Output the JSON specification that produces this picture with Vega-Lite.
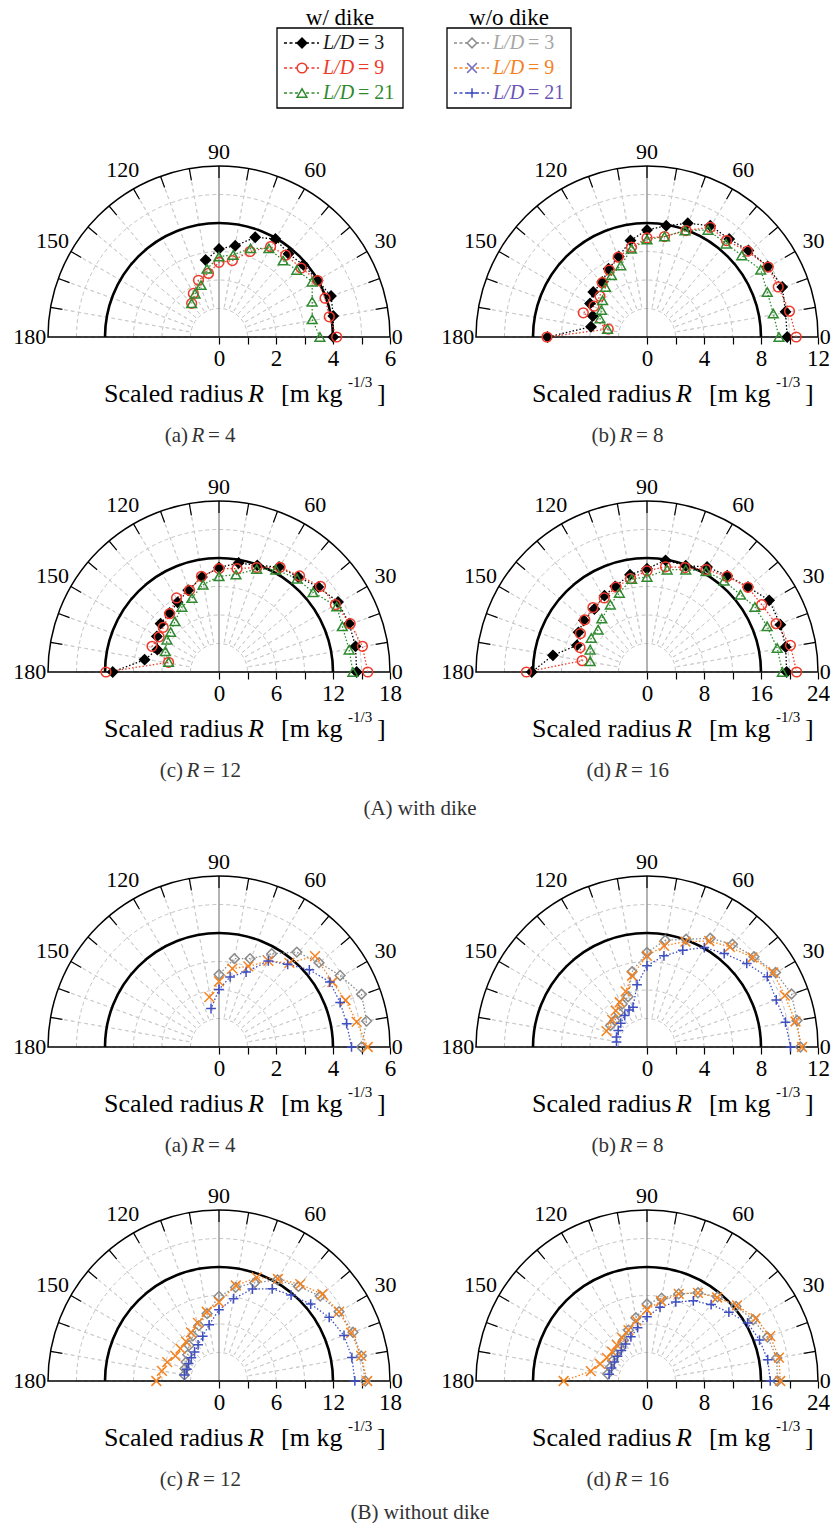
{
"$schema":"https://vega.github.io/schema/vega-lite/v6.json",
"padding":{"left":13,"top":7,"right":0,"bottom":0},
"resolve":{"scale":{"color":"independent","stroke":"independent","fill":"independent","shape":"independent"}},
"config":{"view":{"stroke":null},"font":"Liberation Serif","text":{"font":"Liberation Serif","fill":"#000"},"axisY":{"disable":true},
"axisX":{"domain":false,"grid":false,"tickSize":7,"tickColor":"#000","tickWidth":1.2,"labelFontSize":23,"labelFont":"Liberation Serif","labelColor":"#000","labelPadding":3,"labelFlush":false,"labelOverlap":false}},
"datasets":{
"rings":[{"r":1},{"r":2},{"r":3},{"r":5}],
"spokes":[{"a":10},{"a":20},{"a":30},{"a":40},{"a":50},{"a":60},{"a":70},{"a":80},{"a":100},{"a":110},{"a":120},{"a":130},{"a":140},{"a":150},{"a":160},{"a":170}],
"ticks":[{"a":10},{"a":20},{"a":30},{"a":40},{"a":50},{"a":60},{"a":70},{"a":80},{"a":90},{"a":100},{"a":110},{"a":120},{"a":130},{"a":140},{"a":150},{"a":160},{"a":170}],
"alab":[{"a":30,"t":"30"},{"a":60,"t":"60"},{"a":120,"t":"120"},{"a":150,"t":"150"}],
"leg":[{"g":"w","s":"w3","ld":"3","t":"= 3"},{"g":"w","s":"w9","ld":"9","t":"= 9"},{"g":"w","s":"w21","ld":"21","t":"= 21"},{"g":"o","s":"o3","ld":"3","t":"= 3"},{"g":"o","s":"o9","ld":"9","t":"= 9"},{"g":"o","s":"o21","ld":"21","t":"= 21"}],
"pts":[
{"p":"Aa","s":"w3","a":0,"x":4.01,"y":0},{"p":"Aa","s":"w3","a":10,"x":4.01,"y":0.74},{"p":"Aa","s":"w3","a":20,"x":3.93,"y":1.44},{"p":"Aa","s":"w3","a":30,"x":3.46,"y":1.98},{"p":"Aa","s":"w3","a":40,"x":2.96,"y":2.53},{"p":"Aa","s":"w3","a":50,"x":2.44,"y":2.92},{"p":"Aa","s":"w3","a":60,"x":1.98,"y":3.44},{"p":"Aa","s":"w3","a":70,"x":1.27,"y":3.5},{"p":"Aa","s":"w3","a":80,"x":0.57,"y":3.2},{"p":"Aa","s":"w3","a":90,"x":0,"y":3.09},{"p":"Aa","s":"w3","a":100,"x":-0.47,"y":2.7},
{"p":"Aa","s":"w9","a":0,"x":4.13,"y":0},{"p":"Aa","s":"w9","a":10,"x":3.87,"y":0.71},{"p":"Aa","s":"w9","a":20,"x":3.72,"y":1.36},{"p":"Aa","s":"w9","a":30,"x":3.46,"y":1.98},{"p":"Aa","s":"w9","a":40,"x":2.88,"y":2.42},{"p":"Aa","s":"w9","a":50,"x":2.34,"y":2.87},{"p":"Aa","s":"w9","a":60,"x":1.81,"y":3.17},{"p":"Aa","s":"w9","a":70,"x":1.09,"y":3.0},{"p":"Aa","s":"w9","a":80,"x":0.47,"y":2.68},{"p":"Aa","s":"w9","a":90,"x":0,"y":2.62},{"p":"Aa","s":"w9","a":100,"x":-0.37,"y":2.23},{"p":"Aa","s":"w9","a":110,"x":-0.72,"y":1.99},{"p":"Aa","s":"w9","a":120,"x":-0.9,"y":1.53},{"p":"Aa","s":"w9","a":130,"x":-0.96,"y":1.18},
{"p":"Aa","s":"w21","a":0,"x":3.54,"y":0},{"p":"Aa","s":"w21","a":10,"x":3.27,"y":0.62},{"p":"Aa","s":"w21","a":20,"x":3.27,"y":1.24},{"p":"Aa","s":"w21","a":30,"x":3.27,"y":1.94},{"p":"Aa","s":"w21","a":40,"x":2.73,"y":2.35},{"p":"Aa","s":"w21","a":50,"x":2.25,"y":2.68},{"p":"Aa","s":"w21","a":60,"x":1.75,"y":3.11},{"p":"Aa","s":"w21","a":70,"x":1.11,"y":3.11},{"p":"Aa","s":"w21","a":80,"x":0.5,"y":2.88},{"p":"Aa","s":"w21","a":90,"x":0,"y":2.82},{"p":"Aa","s":"w21","a":100,"x":-0.42,"y":2.39},{"p":"Aa","s":"w21","a":110,"x":-0.63,"y":1.82},{"p":"Aa","s":"w21","a":120,"x":-0.84,"y":1.52},{"p":"Aa","s":"w21","a":130,"x":-0.96,"y":1.18},
{"p":"Ab","s":"w3","a":0,"x":9.84,"y":0},{"p":"Ab","s":"w3","a":10,"x":9.72,"y":1.77},{"p":"Ab","s":"w3","a":20,"x":9.49,"y":3.51},{"p":"Ab","s":"w3","a":30,"x":8.47,"y":4.95},{"p":"Ab","s":"w3","a":40,"x":7.12,"y":6.07},{"p":"Ab","s":"w3","a":50,"x":5.77,"y":6.88},{"p":"Ab","s":"w3","a":60,"x":4.44,"y":7.81},{"p":"Ab","s":"w3","a":70,"x":2.86,"y":7.98},{"p":"Ab","s":"w3","a":80,"x":1.35,"y":7.81},{"p":"Ab","s":"w3","a":90,"x":0,"y":7.51},{"p":"Ab","s":"w3","a":100,"x":-1.16,"y":6.77},{"p":"Ab","s":"w3","a":110,"x":-1.98,"y":5.65},{"p":"Ab","s":"w3","a":120,"x":-2.7,"y":4.79},{"p":"Ab","s":"w3","a":130,"x":-3.14,"y":3.86},{"p":"Ab","s":"w3","a":140,"x":-3.77,"y":3.16},{"p":"Ab","s":"w3","a":150,"x":-4.0,"y":2.35},{"p":"Ab","s":"w3","a":160,"x":-3.81,"y":1.47},{"p":"Ab","s":"w3","a":170,"x":-3.93,"y":0.72},{"p":"Ab","s":"w3","a":180,"x":-6.98,"y":0},
{"p":"Ab","s":"w9","a":0,"x":10.47,"y":0},{"p":"Ab","s":"w9","a":10,"x":10.0,"y":1.81},{"p":"Ab","s":"w9","a":20,"x":9.21,"y":3.51},{"p":"Ab","s":"w9","a":30,"x":8.51,"y":4.91},{"p":"Ab","s":"w9","a":40,"x":7.05,"y":6.02},{"p":"Ab","s":"w9","a":50,"x":5.58,"y":6.77},{"p":"Ab","s":"w9","a":60,"x":4.44,"y":7.7},{"p":"Ab","s":"w9","a":70,"x":2.74,"y":7.47},{"p":"Ab","s":"w9","a":80,"x":1.23,"y":7.05},{"p":"Ab","s":"w9","a":90,"x":0,"y":6.95},{"p":"Ab","s":"w9","a":100,"x":-1.09,"y":6.3},{"p":"Ab","s":"w9","a":110,"x":-2.02,"y":5.6},{"p":"Ab","s":"w9","a":120,"x":-2.65,"y":4.7},{"p":"Ab","s":"w9","a":130,"x":-3.14,"y":3.81},{"p":"Ab","s":"w9","a":140,"x":-3.3,"y":2.86},{"p":"Ab","s":"w9","a":150,"x":-3.72,"y":2.16},{"p":"Ab","s":"w9","a":160,"x":-4.47,"y":1.7},{"p":"Ab","s":"w9","a":170,"x":-2.72,"y":0.56},{"p":"Ab","s":"w9","a":180,"x":-7.02,"y":0},
{"p":"Ab","s":"w21","a":0,"x":9.26,"y":0},{"p":"Ab","s":"w21","a":10,"x":8.86,"y":1.65},{"p":"Ab","s":"w21","a":20,"x":8.44,"y":3.16},{"p":"Ab","s":"w21","a":30,"x":7.98,"y":4.72},{"p":"Ab","s":"w21","a":40,"x":6.65,"y":5.72},{"p":"Ab","s":"w21","a":50,"x":5.55,"y":6.55},{"p":"Ab","s":"w21","a":60,"x":4.28,"y":7.51},{"p":"Ab","s":"w21","a":70,"x":2.67,"y":7.47},{"p":"Ab","s":"w21","a":80,"x":1.23,"y":7.05},{"p":"Ab","s":"w21","a":90,"x":0,"y":6.84},{"p":"Ab","s":"w21","a":100,"x":-1.09,"y":6.19},{"p":"Ab","s":"w21","a":110,"x":-1.84,"y":5.02},{"p":"Ab","s":"w21","a":120,"x":-2.49,"y":4.33},{"p":"Ab","s":"w21","a":130,"x":-2.91,"y":3.51},{"p":"Ab","s":"w21","a":140,"x":-3.12,"y":2.58},{"p":"Ab","s":"w21","a":150,"x":-3.2,"y":1.9},{"p":"Ab","s":"w21","a":160,"x":-3.3,"y":1.3},{"p":"Ab","s":"w21","a":170,"x":-2.77,"y":0.56},
{"p":"Ac","s":"w3","a":0,"x":14.49,"y":0},{"p":"Ac","s":"w3","a":10,"x":14.37,"y":2.7},{"p":"Ac","s":"w3","a":20,"x":13.7,"y":5.09},{"p":"Ac","s":"w3","a":30,"x":12.53,"y":7.37},{"p":"Ac","s":"w3","a":40,"x":10.46,"y":8.95},{"p":"Ac","s":"w3","a":50,"x":8.33,"y":10.0},{"p":"Ac","s":"w3","a":60,"x":6.32,"y":11.05},{"p":"Ac","s":"w3","a":70,"x":4.03,"y":11.23},{"p":"Ac","s":"w3","a":80,"x":2.07,"y":11.47},{"p":"Ac","s":"w3","a":90,"x":0,"y":11.0},{"p":"Ac","s":"w3","a":100,"x":-1.79,"y":10.0},{"p":"Ac","s":"w3","a":110,"x":-3.24,"y":8.6},{"p":"Ac","s":"w3","a":120,"x":-4.36,"y":7.33},{"p":"Ac","s":"w3","a":130,"x":-5.2,"y":6.21},{"p":"Ac","s":"w3","a":140,"x":-6.15,"y":5.09},{"p":"Ac","s":"w3","a":150,"x":-6.54,"y":3.75},{"p":"Ac","s":"w3","a":160,"x":-6.49,"y":2.35},{"p":"Ac","s":"w3","a":170,"x":-7.83,"y":1.3},{"p":"Ac","s":"w3","a":180,"x":-11.19,"y":0},
{"p":"Ac","s":"w9","a":0,"x":15.66,"y":0},{"p":"Ac","s":"w9","a":10,"x":15.1,"y":2.7},{"p":"Ac","s":"w9","a":20,"x":13.81,"y":5.09},{"p":"Ac","s":"w9","a":30,"x":12.25,"y":7.09},{"p":"Ac","s":"w9","a":40,"x":10.68,"y":9.02},{"p":"Ac","s":"w9","a":50,"x":8.48,"y":10.11},{"p":"Ac","s":"w9","a":60,"x":6.43,"y":11.02},{"p":"Ac","s":"w9","a":70,"x":3.97,"y":11.0},{"p":"Ac","s":"w9","a":80,"x":1.9,"y":10.88},{"p":"Ac","s":"w9","a":90,"x":0,"y":10.88},{"p":"Ac","s":"w9","a":100,"x":-1.85,"y":10.07},{"p":"Ac","s":"w9","a":110,"x":-3.1,"y":8.6},{"p":"Ac","s":"w9","a":120,"x":-4.47,"y":7.79},{"p":"Ac","s":"w9","a":130,"x":-5.2,"y":6.14},{"p":"Ac","s":"w9","a":140,"x":-5.87,"y":4.7},{"p":"Ac","s":"w9","a":150,"x":-6.3,"y":3.7},{"p":"Ac","s":"w9","a":160,"x":-7.05,"y":2.7},{"p":"Ac","s":"w9","a":170,"x":-5.31,"y":1.02},{"p":"Ac","s":"w9","a":180,"x":-11.9,"y":0},
{"p":"Ac","s":"w21","a":0,"x":14.09,"y":0},{"p":"Ac","s":"w21","a":10,"x":13.7,"y":2.35},{"p":"Ac","s":"w21","a":20,"x":12.98,"y":4.81},{"p":"Ac","s":"w21","a":30,"x":12.4,"y":6.9},{"p":"Ac","s":"w21","a":40,"x":9.9,"y":8.39},{"p":"Ac","s":"w21","a":50,"x":8.22,"y":9.82},{"p":"Ac","s":"w21","a":60,"x":5.98,"y":10.77},{"p":"Ac","s":"w21","a":70,"x":3.97,"y":10.84},{"p":"Ac","s":"w21","a":80,"x":1.79,"y":10.25},{"p":"Ac","s":"w21","a":90,"x":0,"y":10.07},{"p":"Ac","s":"w21","a":100,"x":-1.68,"y":9.19},{"p":"Ac","s":"w21","a":110,"x":-2.85,"y":7.79},{"p":"Ac","s":"w21","a":120,"x":-3.91,"y":6.84},{"p":"Ac","s":"w21","a":130,"x":-4.64,"y":5.33},{"p":"Ac","s":"w21","a":140,"x":-5.09,"y":4.21},{"p":"Ac","s":"w21","a":150,"x":-5.48,"y":3.4},{"p":"Ac","s":"w21","a":160,"x":-5.65,"y":2.18},{"p":"Ac","s":"w21","a":170,"x":-5.31,"y":1.05},
{"p":"Ad","s":"w3","a":0,"x":19.6,"y":0},{"p":"Ad","s":"w3","a":10,"x":19.46,"y":3.51},{"p":"Ad","s":"w3","a":20,"x":18.72,"y":6.64},{"p":"Ad","s":"w3","a":30,"x":17.15,"y":10.06},{"p":"Ad","s":"w3","a":40,"x":14.17,"y":11.93},{"p":"Ad","s":"w3","a":50,"x":11.26,"y":13.52},{"p":"Ad","s":"w3","a":60,"x":8.43,"y":14.74},{"p":"Ad","s":"w3","a":70,"x":5.44,"y":14.92},{"p":"Ad","s":"w3","a":80,"x":2.61,"y":15.67},{"p":"Ad","s":"w3","a":90,"x":0,"y":14.5},{"p":"Ad","s":"w3","a":100,"x":-2.39,"y":13.66},{"p":"Ad","s":"w3","a":110,"x":-4.47,"y":12.02},{"p":"Ad","s":"w3","a":120,"x":-5.97,"y":10.71},{"p":"Ad","s":"w3","a":130,"x":-7.38,"y":8.84},{"p":"Ad","s":"w3","a":140,"x":-8.87,"y":7.25},{"p":"Ad","s":"w3","a":150,"x":-9.62,"y":5.57},{"p":"Ad","s":"w3","a":160,"x":-9.84,"y":3.74},{"p":"Ad","s":"w3","a":170,"x":-13.2,"y":2.34},{"p":"Ad","s":"w3","a":180,"x":-16.18,"y":0},
{"p":"Ad","s":"w9","a":0,"x":21.0,"y":0},{"p":"Ad","s":"w9","a":10,"x":20.13,"y":3.74},{"p":"Ad","s":"w9","a":20,"x":18.12,"y":6.78},{"p":"Ad","s":"w9","a":30,"x":16.1,"y":9.45},{"p":"Ad","s":"w9","a":40,"x":14.17,"y":11.89},{"p":"Ad","s":"w9","a":50,"x":11.25,"y":13.41},{"p":"Ad","s":"w9","a":60,"x":8.3,"y":14.38},{"p":"Ad","s":"w9","a":70,"x":5.34,"y":14.66},{"p":"Ad","s":"w9","a":80,"x":2.6,"y":14.77},{"p":"Ad","s":"w9","a":90,"x":0,"y":14.2},{"p":"Ad","s":"w9","a":100,"x":-2.31,"y":13.1},{"p":"Ad","s":"w9","a":110,"x":-4.34,"y":11.93},{"p":"Ad","s":"w9","a":120,"x":-6.0,"y":10.39},{"p":"Ad","s":"w9","a":130,"x":-7.59,"y":9.04},{"p":"Ad","s":"w9","a":140,"x":-8.73,"y":7.33},{"p":"Ad","s":"w9","a":150,"x":-9.35,"y":5.4},{"p":"Ad","s":"w9","a":160,"x":-9.4,"y":3.42},{"p":"Ad","s":"w9","a":170,"x":-9.1,"y":1.59},{"p":"Ad","s":"w9","a":180,"x":-16.93,"y":0},
{"p":"Ad","s":"w21","a":0,"x":19.0,"y":0},{"p":"Ad","s":"w21","a":10,"x":18.27,"y":3.37},{"p":"Ad","s":"w21","a":20,"x":16.85,"y":6.41},{"p":"Ad","s":"w21","a":30,"x":15.14,"y":9.12},{"p":"Ad","s":"w21","a":40,"x":13.12,"y":10.85},{"p":"Ad","s":"w21","a":50,"x":10.81,"y":12.82},{"p":"Ad","s":"w21","a":60,"x":8.28,"y":14.13},{"p":"Ad","s":"w21","a":70,"x":5.44,"y":14.36},{"p":"Ad","s":"w21","a":80,"x":2.83,"y":14.36},{"p":"Ad","s":"w21","a":90,"x":0,"y":13.33},{"p":"Ad","s":"w21","a":100,"x":-2.16,"y":13.05},{"p":"Ad","s":"w21","a":110,"x":-3.88,"y":11.09},{"p":"Ad","s":"w21","a":120,"x":-5.15,"y":9.45},{"p":"Ad","s":"w21","a":130,"x":-6.34,"y":7.49},{"p":"Ad","s":"w21","a":140,"x":-6.86,"y":5.94},{"p":"Ad","s":"w21","a":150,"x":-7.83,"y":4.77},{"p":"Ad","s":"w21","a":160,"x":-7.98,"y":3.13},{"p":"Ad","s":"w21","a":170,"x":-7.98,"y":1.5},
{"p":"Ba","s":"o3","a":0,"x":5.0,"y":0},{"p":"Ba","s":"o3","a":10,"x":5.18,"y":0.91},{"p":"Ba","s":"o3","a":20,"x":5.0,"y":1.85},{"p":"Ba","s":"o3","a":30,"x":4.25,"y":2.51},{"p":"Ba","s":"o3","a":40,"x":3.51,"y":2.96},{"p":"Ba","s":"o3","a":50,"x":2.73,"y":3.33},{"p":"Ba","s":"o3","a":60,"x":1.85,"y":3.27},{"p":"Ba","s":"o3","a":70,"x":1.09,"y":3.1},{"p":"Ba","s":"o3","a":80,"x":0.54,"y":3.1},{"p":"Ba","s":"o3","a":90,"x":0,"y":2.54},
{"p":"Ba","s":"o9","a":0,"x":5.22,"y":0},{"p":"Ba","s":"o9","a":10,"x":4.83,"y":0.88},{"p":"Ba","s":"o9","a":20,"x":4.44,"y":1.64},{"p":"Ba","s":"o9","a":30,"x":3.98,"y":2.28},{"p":"Ba","s":"o9","a":40,"x":3.37,"y":3.19},{"p":"Ba","s":"o9","a":50,"x":2.47,"y":2.95},{"p":"Ba","s":"o9","a":60,"x":1.73,"y":3.02},{"p":"Ba","s":"o9","a":70,"x":1.03,"y":2.83},{"p":"Ba","s":"o9","a":80,"x":0.47,"y":2.75},{"p":"Ba","s":"o9","a":90,"x":0,"y":2.3},{"p":"Ba","s":"o9","a":100,"x":-0.34,"y":1.75},
{"p":"Ba","s":"o21","a":0,"x":4.65,"y":0},{"p":"Ba","s":"o21","a":10,"x":4.48,"y":0.82},{"p":"Ba","s":"o21","a":20,"x":4.25,"y":1.56},{"p":"Ba","s":"o21","a":30,"x":3.89,"y":2.28},{"p":"Ba","s":"o21","a":40,"x":3.17,"y":2.71},{"p":"Ba","s":"o21","a":50,"x":2.41,"y":2.9},{"p":"Ba","s":"o21","a":60,"x":1.73,"y":3.02},{"p":"Ba","s":"o21","a":70,"x":0.95,"y":2.63},{"p":"Ba","s":"o21","a":80,"x":0.39,"y":2.46},{"p":"Ba","s":"o21","a":90,"x":0,"y":2.02},{"p":"Ba","s":"o21","a":100,"x":-0.28,"y":1.35},
{"p":"Bb","s":"o3","a":0,"x":10.77,"y":0},{"p":"Bb","s":"o3","a":10,"x":10.53,"y":1.86},{"p":"Bb","s":"o3","a":20,"x":10.14,"y":3.72},{"p":"Bb","s":"o3","a":30,"x":9.02,"y":5.23},{"p":"Bb","s":"o3","a":40,"x":7.51,"y":6.33},{"p":"Bb","s":"o3","a":50,"x":6.0,"y":7.21},{"p":"Bb","s":"o3","a":60,"x":4.44,"y":7.63},{"p":"Bb","s":"o3","a":70,"x":2.74,"y":7.56},{"p":"Bb","s":"o3","a":80,"x":1.28,"y":7.49},{"p":"Bb","s":"o3","a":90,"x":0,"y":6.63},{"p":"Bb","s":"o3","a":100,"x":-1.05,"y":5.28},{"p":"Bb","s":"o3","a":110,"x":-1.33,"y":3.53},{"p":"Bb","s":"o3","a":120,"x":-1.74,"y":3.02},{"p":"Bb","s":"o3","a":130,"x":-1.98,"y":2.4},{"p":"Bb","s":"o3","a":140,"x":-2.26,"y":1.86},{"p":"Bb","s":"o3","a":150,"x":-2.56,"y":1.51},
{"p":"Bb","s":"o9","a":0,"x":10.88,"y":0},{"p":"Bb","s":"o9","a":10,"x":10.42,"y":1.79},{"p":"Bb","s":"o9","a":20,"x":9.67,"y":3.6},{"p":"Bb","s":"o9","a":30,"x":8.86,"y":5.23},{"p":"Bb","s":"o9","a":40,"x":7.4,"y":6.28},{"p":"Bb","s":"o9","a":50,"x":5.81,"y":7.02},{"p":"Bb","s":"o9","a":60,"x":4.37,"y":7.44},{"p":"Bb","s":"o9","a":70,"x":2.7,"y":7.4},{"p":"Bb","s":"o9","a":80,"x":1.2,"y":7.1},{"p":"Bb","s":"o9","a":90,"x":0,"y":6.4},{"p":"Bb","s":"o9","a":100,"x":-1.05,"y":5.0},{"p":"Bb","s":"o9","a":110,"x":-1.5,"y":3.9},{"p":"Bb","s":"o9","a":120,"x":-1.91,"y":3.14},{"p":"Bb","s":"o9","a":130,"x":-2.2,"y":2.55},{"p":"Bb","s":"o9","a":140,"x":-2.44,"y":1.9},{"p":"Bb","s":"o9","a":150,"x":-2.84,"y":1.12},
{"p":"Bb","s":"o21","a":0,"x":10.07,"y":0},{"p":"Bb","s":"o21","a":10,"x":9.72,"y":1.74},{"p":"Bb","s":"o21","a":20,"x":9.07,"y":3.3},{"p":"Bb","s":"o21","a":30,"x":8.44,"y":4.93},{"p":"Bb","s":"o21","a":40,"x":7.0,"y":5.86},{"p":"Bb","s":"o21","a":50,"x":5.42,"y":6.56},{"p":"Bb","s":"o21","a":60,"x":4.02,"y":6.98},{"p":"Bb","s":"o21","a":70,"x":2.51,"y":6.79},{"p":"Bb","s":"o21","a":80,"x":1.19,"y":6.4},{"p":"Bb","s":"o21","a":90,"x":0,"y":5.7},{"p":"Bb","s":"o21","a":100,"x":-0.7,"y":4.37},{"p":"Bb","s":"o21","a":110,"x":-0.98,"y":2.79},{"p":"Bb","s":"o21","a":120,"x":-1.26,"y":2.6},{"p":"Bb","s":"o21","a":130,"x":-1.56,"y":2.21},{"p":"Bb","s":"o21","a":140,"x":-1.84,"y":1.67},{"p":"Bb","s":"o21","a":150,"x":-2.02,"y":1.16},{"p":"Bb","s":"o21","a":160,"x":-2.14,"y":0.7},{"p":"Bb","s":"o21","a":170,"x":-2.14,"y":0.35},
{"p":"Bc","s":"o3","a":0,"x":15.4,"y":0},{"p":"Bc","s":"o3","a":10,"x":14.97,"y":2.64},{"p":"Bc","s":"o3","a":20,"x":14.1,"y":5.13},{"p":"Bc","s":"o3","a":30,"x":12.64,"y":7.3},{"p":"Bc","s":"o3","a":40,"x":10.65,"y":8.94},{"p":"Bc","s":"o3","a":50,"x":8.36,"y":9.96},{"p":"Bc","s":"o3","a":60,"x":6.15,"y":10.65},{"p":"Bc","s":"o3","a":70,"x":3.76,"y":10.34},{"p":"Bc","s":"o3","a":80,"x":1.74,"y":9.85},{"p":"Bc","s":"o3","a":90,"x":0,"y":8.9},{"p":"Bc","s":"o3","a":100,"x":-1.25,"y":7.09},{"p":"Bc","s":"o3","a":110,"x":-2.12,"y":5.83},{"p":"Bc","s":"o3","a":120,"x":-2.75,"y":4.76},{"p":"Bc","s":"o3","a":130,"x":-3.15,"y":3.75},{"p":"Bc","s":"o3","a":140,"x":-3.29,"y":2.76},{"p":"Bc","s":"o3","a":150,"x":-3.46,"y":2.0},{"p":"Bc","s":"o3","a":160,"x":-3.57,"y":1.3},{"p":"Bc","s":"o3","a":170,"x":-3.64,"y":0.64},
{"p":"Bc","s":"o9","a":0,"x":15.6,"y":0},{"p":"Bc","s":"o9","a":10,"x":14.97,"y":2.64},{"p":"Bc","s":"o9","a":20,"x":13.91,"y":5.06},{"p":"Bc","s":"o9","a":30,"x":12.64,"y":7.3},{"p":"Bc","s":"o9","a":40,"x":10.88,"y":9.13},{"p":"Bc","s":"o9","a":50,"x":8.55,"y":10.19},{"p":"Bc","s":"o9","a":60,"x":6.2,"y":10.74},{"p":"Bc","s":"o9","a":70,"x":3.97,"y":10.9},{"p":"Bc","s":"o9","a":80,"x":1.77,"y":10.05},{"p":"Bc","s":"o9","a":90,"x":0,"y":8.3},{"p":"Bc","s":"o9","a":100,"x":-1.29,"y":7.29},{"p":"Bc","s":"o9","a":110,"x":-2.22,"y":6.11},{"p":"Bc","s":"o9","a":120,"x":-2.95,"y":5.11},{"p":"Bc","s":"o9","a":130,"x":-3.47,"y":4.14},{"p":"Bc","s":"o9","a":140,"x":-4.06,"y":3.41},{"p":"Bc","s":"o9","a":150,"x":-4.59,"y":2.65},{"p":"Bc","s":"o9","a":160,"x":-5.45,"y":1.98},{"p":"Bc","s":"o9","a":170,"x":-6.01,"y":1.06},{"p":"Bc","s":"o9","a":180,"x":-6.6,"y":0},
{"p":"Bc","s":"o21","a":0,"x":14.3,"y":0},{"p":"Bc","s":"o21","a":10,"x":13.99,"y":2.47},{"p":"Bc","s":"o21","a":20,"x":13.16,"y":4.79},{"p":"Bc","s":"o21","a":30,"x":11.6,"y":6.7},{"p":"Bc","s":"o21","a":40,"x":9.65,"y":8.1},{"p":"Bc","s":"o21","a":50,"x":7.59,"y":9.04},{"p":"Bc","s":"o21","a":60,"x":5.6,"y":9.7},{"p":"Bc","s":"o21","a":70,"x":3.52,"y":9.68},{"p":"Bc","s":"o21","a":80,"x":1.53,"y":8.67},{"p":"Bc","s":"o21","a":90,"x":0,"y":7.5},{"p":"Bc","s":"o21","a":100,"x":-1.04,"y":5.91},{"p":"Bc","s":"o21","a":110,"x":-1.71,"y":4.7},{"p":"Bc","s":"o21","a":120,"x":-2.2,"y":3.81},{"p":"Bc","s":"o21","a":130,"x":-2.57,"y":3.06},{"p":"Bc","s":"o21","a":140,"x":-2.91,"y":2.44},{"p":"Bc","s":"o21","a":150,"x":-3.2,"y":1.85},{"p":"Bc","s":"o21","a":160,"x":-3.38,"y":1.23},{"p":"Bc","s":"o21","a":170,"x":-3.64,"y":0.64},
{"p":"Bd","s":"o3","a":0,"x":18.3,"y":0},{"p":"Bd","s":"o3","a":10,"x":18.22,"y":3.22},{"p":"Bd","s":"o3","a":20,"x":16.92,"y":6.16},{"p":"Bd","s":"o3","a":30,"x":14.9,"y":8.6},{"p":"Bd","s":"o3","a":40,"x":12.49,"y":10.48},{"p":"Bd","s":"o3","a":50,"x":9.9,"y":11.8},{"p":"Bd","s":"o3","a":60,"x":7.15,"y":12.38},{"p":"Bd","s":"o3","a":70,"x":4.45,"y":12.22},{"p":"Bd","s":"o3","a":80,"x":2.05,"y":11.62},{"p":"Bd","s":"o3","a":90,"x":0,"y":10.8},{"p":"Bd","s":"o3","a":100,"x":-1.57,"y":8.87},{"p":"Bd","s":"o3","a":110,"x":-2.6,"y":7.14},{"p":"Bd","s":"o3","a":120,"x":-3.3,"y":5.72},{"p":"Bd","s":"o3","a":130,"x":-3.79,"y":4.52},{"p":"Bd","s":"o3","a":140,"x":-4.37,"y":3.67},{"p":"Bd","s":"o3","a":150,"x":-4.85,"y":2.8},{"p":"Bd","s":"o3","a":160,"x":-5.17,"y":1.88},{"p":"Bd","s":"o3","a":170,"x":-5.52,"y":0.97},
{"p":"Bd","s":"o9","a":0,"x":18.7,"y":0},{"p":"Bd","s":"o9","a":10,"x":18.52,"y":3.27},{"p":"Bd","s":"o9","a":20,"x":17.3,"y":6.29},{"p":"Bd","s":"o9","a":30,"x":15.24,"y":8.8},{"p":"Bd","s":"o9","a":40,"x":12.64,"y":10.61},{"p":"Bd","s":"o9","a":50,"x":9.84,"y":11.72},{"p":"Bd","s":"o9","a":60,"x":7.15,"y":12.38},{"p":"Bd","s":"o9","a":70,"x":4.45,"y":12.22},{"p":"Bd","s":"o9","a":80,"x":1.98,"y":11.23},{"p":"Bd","s":"o9","a":90,"x":0,"y":10.0},{"p":"Bd","s":"o9","a":100,"x":-1.5,"y":8.47},{"p":"Bd","s":"o9","a":110,"x":-2.6,"y":7.14},{"p":"Bd","s":"o9","a":120,"x":-3.5,"y":6.06},{"p":"Bd","s":"o9","a":130,"x":-4.24,"y":5.06},{"p":"Bd","s":"o9","a":140,"x":-4.9,"y":4.11},{"p":"Bd","s":"o9","a":150,"x":-5.63,"y":3.25},{"p":"Bd","s":"o9","a":160,"x":-6.58,"y":2.39},{"p":"Bd","s":"o9","a":170,"x":-7.88,"y":1.39},{"p":"Bd","s":"o9","a":180,"x":-11.7,"y":0},
{"p":"Bd","s":"o21","a":0,"x":17.3,"y":0},{"p":"Bd","s":"o21","a":10,"x":16.94,"y":2.99},{"p":"Bd","s":"o21","a":20,"x":15.79,"y":5.75},{"p":"Bd","s":"o21","a":30,"x":14.12,"y":8.15},{"p":"Bd","s":"o21","a":40,"x":11.49,"y":9.65},{"p":"Bd","s":"o21","a":50,"x":9.0,"y":10.72},{"p":"Bd","s":"o21","a":60,"x":6.5,"y":11.26},{"p":"Bd","s":"o21","a":70,"x":4.04,"y":11.09},{"p":"Bd","s":"o21","a":80,"x":1.83,"y":10.34},{"p":"Bd","s":"o21","a":90,"x":0,"y":9.0},{"p":"Bd","s":"o21","a":100,"x":-1.32,"y":7.48},{"p":"Bd","s":"o21","a":110,"x":-2.26,"y":6.2},{"p":"Bd","s":"o21","a":120,"x":-3.0,"y":5.2},{"p":"Bd","s":"o21","a":130,"x":-3.6,"y":4.29},{"p":"Bd","s":"o21","a":140,"x":-4.14,"y":3.47},{"p":"Bd","s":"o21","a":150,"x":-4.59,"y":2.65},{"p":"Bd","s":"o21","a":160,"x":-4.98,"y":1.81},{"p":"Bd","s":"o21","a":170,"x":-5.32,"y":0.94}
]},
"columns":2,"bounds":"flush","spacing":{"row":58,"column":86},
"concat":[
{"width":342,"height":80,"resolve":{"scale":{"color":"independent"}},
"layer":[
{"data":{"values":[{"g":"w"}]},"mark":{"type":"rect","filled":false,"stroke":"#000","strokeWidth":1.3},"encoding":{"x":{"field":"g","type":"nominal","axis":null,"scale":{"type":"band","domain":["w"],"range":[229,355],"paddingInner":0,"paddingOuter":0}}}},
{"data":{"values":[{"g":"w","t":"w/ dike"}]},"mark":{"type":"text","fontSize":23,"baseline":"alphabetic","yOffset":-18},"encoding":{"x":{"field":"g","type":"nominal","axis":null},"y":{"datum":"3","type":"ordinal","axis":null,"scale":{"type":"point","domain":["3","9","21"],"range":[15,65],"padding":0}},"text":{"field":"t"}}},
{"data":{"name":"leg"},"transform":[{"filter":"datum.g=='w'"}],"mark":{"type":"rule","strokeDash":[3,2.5],"strokeWidth":1.3,"xOffset":7,"x2Offset":42},"encoding":{"x":{"field":"g","type":"nominal","bandPosition":0,"axis":null},"x2":{"field":"g","bandPosition":0},"y":{"field":"ld","type":"ordinal","axis":null},"color":{"field":"s","type":"nominal","legend":null,"scale":{"domain":["w3","w9","w21","o3","o9","o21"],"range":["#000000","#ee3a2a","#2f8a2f","#8c8c8c","#f5821f","#3f4fc0"]}}}},
{"data":{"name":"leg"},"transform":[{"filter":"datum.g=='w'"}],"mark":{"type":"point","filled":true,"size":95,"strokeWidth":1.5,"opacity":1,"xOffset":25},"encoding":{"x":{"field":"g","type":"nominal","bandPosition":0,"axis":null},"y":{"field":"ld","type":"ordinal","axis":null},
"stroke":{"field":"s","type":"nominal","legend":null,"scale":{"domain":["w3","w9","w21","o3","o9","o21"],"range":["#000000","#ee3a2a","#2f8a2f","#8c8c8c","#7b74c4","#3f4fc0"]}},
"fill":{"field":"s","type":"nominal","legend":null,"scale":{"domain":["w3","w9","w21","o3","o9","o21"],"range":["#000000","#ffffff","#ffffff","#ffffff","transparent","transparent"]}},
"shape":{"field":"s","type":"nominal","legend":null,"scale":{"domain":["w3","w9","w21","o3","o9","o21"],"range":["diamond","circle","triangle-up","diamond","M-1,-1L1,1M-1,1L1,-1","M-1,0L1,0M0,-1L0,1"]}}}},
{"data":{"name":"leg"},"transform":[{"filter":"datum.g=='w'"}],"mark":{"type":"text","fontSize":20,"fontStyle":"italic","align":"left","baseline":"middle","xOffset":46},"encoding":{"x":{"field":"g","type":"nominal","bandPosition":0,"axis":null},"y":{"field":"ld","type":"ordinal","axis":null},"text":{"value":"L/D"},"color":{"field":"s","type":"nominal","legend":null,"scale":{"domain":["w3","w9","w21","o3","o9","o21"],"range":["#1a1a1a","#ee3a2a","#2f8a2f","#a5a5a5","#f5821f","#6a55b5"]}}}},
{"data":{"name":"leg"},"transform":[{"filter":"datum.g=='w'"}],"mark":{"type":"text","fontSize":20,"align":"left","baseline":"middle","xOffset":81},"encoding":{"x":{"field":"g","type":"nominal","bandPosition":0,"axis":null},"y":{"field":"ld","type":"ordinal","axis":null},"text":{"field":"t"},"color":{"field":"s","type":"nominal","legend":null,"scale":{"domain":["w3","w9","w21","o3","o9","o21"],"range":["#1a1a1a","#ee3a2a","#2f8a2f","#a5a5a5","#f5821f","#6a55b5"]}}}}
]},
{"width":342,"height":80,"resolve":{"scale":{"color":"independent"}},
"layer":[
{"data":{"values":[{"g":"o"}]},"mark":{"type":"rect","filled":false,"stroke":"#000","strokeWidth":1.3},"encoding":{"x":{"field":"g","type":"nominal","axis":null,"scale":{"type":"band","domain":["o"],"range":[-29,95],"paddingInner":0,"paddingOuter":0}}}},
{"data":{"values":[{"g":"o","t":"w/o dike"}]},"mark":{"type":"text","fontSize":23,"baseline":"alphabetic","yOffset":-18},"encoding":{"x":{"field":"g","type":"nominal","axis":null},"y":{"datum":"3","type":"ordinal","axis":null,"scale":{"type":"point","domain":["3","9","21"],"range":[15,65],"padding":0}},"text":{"field":"t"}}},
{"data":{"name":"leg"},"transform":[{"filter":"datum.g=='o'"}],"mark":{"type":"rule","strokeDash":[3,2.5],"strokeWidth":1.3,"xOffset":7,"x2Offset":42},"encoding":{"x":{"field":"g","type":"nominal","bandPosition":0,"axis":null},"x2":{"field":"g","bandPosition":0},"y":{"field":"ld","type":"ordinal","axis":null},"color":{"field":"s","type":"nominal","legend":null,"scale":{"domain":["w3","w9","w21","o3","o9","o21"],"range":["#000000","#ee3a2a","#2f8a2f","#8c8c8c","#f5821f","#3f4fc0"]}}}},
{"data":{"name":"leg"},"transform":[{"filter":"datum.g=='o'"}],"mark":{"type":"point","filled":true,"size":95,"strokeWidth":1.5,"opacity":1,"xOffset":25},"encoding":{"x":{"field":"g","type":"nominal","bandPosition":0,"axis":null},"y":{"field":"ld","type":"ordinal","axis":null},
"stroke":{"field":"s","type":"nominal","legend":null,"scale":{"domain":["w3","w9","w21","o3","o9","o21"],"range":["#000000","#ee3a2a","#2f8a2f","#8c8c8c","#7b74c4","#3f4fc0"]}},
"fill":{"field":"s","type":"nominal","legend":null,"scale":{"domain":["w3","w9","w21","o3","o9","o21"],"range":["#000000","#ffffff","#ffffff","#ffffff","transparent","transparent"]}},
"shape":{"field":"s","type":"nominal","legend":null,"scale":{"domain":["w3","w9","w21","o3","o9","o21"],"range":["diamond","circle","triangle-up","diamond","M-1,-1L1,1M-1,1L1,-1","M-1,0L1,0M0,-1L0,1"]}}}},
{"data":{"name":"leg"},"transform":[{"filter":"datum.g=='o'"}],"mark":{"type":"text","fontSize":20,"fontStyle":"italic","align":"left","baseline":"middle","xOffset":46},"encoding":{"x":{"field":"g","type":"nominal","bandPosition":0,"axis":null},"y":{"field":"ld","type":"ordinal","axis":null},"text":{"value":"L/D"},"color":{"field":"s","type":"nominal","legend":null,"scale":{"domain":["w3","w9","w21","o3","o9","o21"],"range":["#1a1a1a","#ee3a2a","#2f8a2f","#a5a5a5","#f5821f","#6a55b5"]}}}},
{"data":{"name":"leg"},"transform":[{"filter":"datum.g=='o'"}],"mark":{"type":"text","fontSize":20,"align":"left","baseline":"middle","xOffset":81},"encoding":{"x":{"field":"g","type":"nominal","bandPosition":0,"axis":null},"y":{"field":"ld","type":"ordinal","axis":null},"text":{"field":"t"},"color":{"field":"s","type":"nominal","legend":null,"scale":{"domain":["w3","w9","w21","o3","o9","o21"],"range":["#1a1a1a","#ee3a2a","#2f8a2f","#a5a5a5","#f5821f","#6a55b5"]}}}}
]},
{"width":342,"height":171,"data":{"values":[{}]},
"layer":[
{"data":{"name":"rings"},"mark":{"type":"arc","filled":false,"stroke":"#c4c4c4","strokeWidth":1,"strokeDash":[4,3]},"encoding":{"x":{"datum":0,"type":"quantitative","scale":{"domain":[-6,6],"nice":false,"zero":false},"axis":{"title":null,"values":[0,1,2,3,4,5,6],"labelExpr":"datum.value % 2 == 0 ? datum.label : ''"}},"y":{"datum":0,"type":"quantitative","scale":{"domain":[0,6],"nice":false,"zero":false}},"theta":{"datum":180,"type":"quantitative","scale":{"type":"linear","domain":[0,180],"range":[1.5707963,-1.5707963],"zero":false,"nice":false}},"theta2":{"datum":0},"radius":{"field":"r","type":"quantitative","stack":null,"scale":{"type":"linear","domain":[0,6],"range":[0,171],"zero":true,"nice":false}}}},
{"data":{"name":"spokes"},"mark":{"type":"arc","filled":false,"stroke":"#cccccc","strokeWidth":1,"strokeDash":[3.5,3.366]},"encoding":{"x":{"datum":0,"type":"quantitative"},"y":{"datum":0,"type":"quantitative"},"theta":{"field":"a","type":"quantitative","stack":null},"theta2":{"field":"a"},"radius":{"datum":6,"type":"quantitative"},"radius2":{"datum":1}}},
{"mark":{"type":"arc","filled":false,"stroke":"#8a8a8a","strokeWidth":1.3},"encoding":{"x":{"datum":0,"type":"quantitative"},"y":{"datum":0,"type":"quantitative"},"theta":{"datum":90,"type":"quantitative"},"theta2":{"datum":90},"radius":{"datum":6,"type":"quantitative"},"radius2":{"datum":0}}},
{"mark":{"type":"arc","filled":false,"stroke":"#000","strokeWidth":1.5},"encoding":{"x":{"datum":0,"type":"quantitative"},"y":{"datum":0,"type":"quantitative"},"theta":{"datum":180,"type":"quantitative"},"theta2":{"datum":0},"radius":{"datum":6,"type":"quantitative"}}},
{"mark":{"type":"arc","filled":false,"stroke":"#000","strokeWidth":2.6},"encoding":{"x":{"datum":0,"type":"quantitative"},"y":{"datum":0,"type":"quantitative"},"theta":{"datum":180,"type":"quantitative"},"theta2":{"datum":0},"radius":{"datum":4,"type":"quantitative"},"radius2":{"datum":4}}},
{"data":{"name":"ticks"},"mark":{"type":"arc","filled":false,"stroke":"#000","strokeWidth":1.2},"encoding":{"x":{"datum":0,"type":"quantitative"},"y":{"datum":0,"type":"quantitative"},"theta":{"field":"a","type":"quantitative","stack":null},"theta2":{"field":"a"},"radius":{"datum":6,"type":"quantitative"},"radius2":{"datum":5.58}}},
{"data":{"name":"alab"},"mark":{"type":"text","fontSize":22,"baseline":"middle"},"encoding":{"x":{"datum":0,"type":"quantitative"},"y":{"datum":0,"type":"quantitative"},"theta":{"field":"a","type":"quantitative"},"radius":{"datum":6.75,"type":"quantitative"},"text":{"field":"t"}}},
{"mark":{"type":"text","text":"90","fontSize":22,"baseline":"middle"},"encoding":{"x":{"datum":0,"type":"quantitative"},"y":{"datum":0,"type":"quantitative"},"theta":{"datum":90,"type":"quantitative"},"radius":{"datum":6.5,"type":"quantitative"}}},
{"mark":{"type":"text","text":"180","fontSize":22,"baseline":"middle","align":"right"},"encoding":{"x":{"datum":0,"type":"quantitative"},"y":{"datum":0,"type":"quantitative"},"theta":{"datum":180,"type":"quantitative"},"radius":{"datum":6.06,"type":"quantitative"}}},
{"mark":{"type":"text","text":"0","fontSize":22,"baseline":"middle","align":"left"},"encoding":{"x":{"datum":0,"type":"quantitative"},"y":{"datum":0,"type":"quantitative"},"theta":{"datum":0,"type":"quantitative"},"radius":{"datum":6.06,"type":"quantitative"}}},
{"data":{"name":"pts"},"transform":[{"filter":"datum.p=='Aa'"}],"mark":{"type":"line","strokeDash":[1.5,2],"strokeWidth":1.3},"encoding":{"x":{"field":"x","type":"quantitative"},"y":{"field":"y","type":"quantitative"},"order":{"field":"a","type":"quantitative"},"color":{"field":"s","type":"nominal","legend":null,"scale":{"domain":["w3","w9","w21","o3","o9","o21"],"range":["#000000","#ee3a2a","#2f8a2f","#8c8c8c","#f5821f","#3f4fc0"]}}}},
{"data":{"name":"pts"},"transform":[{"filter":"datum.p=='Aa'"}],"mark":{"type":"point","filled":true,"size":95,"strokeWidth":1.5,"opacity":1},"encoding":{"x":{"field":"x","type":"quantitative"},"y":{"field":"y","type":"quantitative"},"stroke":{"field":"s","type":"nominal","legend":null,"scale":{"domain":["w3","w9","w21","o3","o9","o21"],"range":["#000000","#ee3a2a","#2f8a2f","#8c8c8c","#f5821f","#3f4fc0"]}},"fill":{"field":"s","type":"nominal","legend":null,"scale":{"domain":["w3","w9","w21","o3","o9","o21"],"range":["#000000","transparent","transparent","transparent","transparent","transparent"]}},"shape":{"field":"s","type":"nominal","legend":null,"scale":{"domain":["w3","w9","w21","o3","o9","o21"],"range":["diamond","circle","triangle-up","diamond","M-1,-1L1,1M-1,1L1,-1","M-1,0L1,0M0,-1L0,1"]}}}},
{"mark":{"type":"text","text":"Scaled radius","align":"left","baseline":"alphabetic","dx":-115,"dy":65,"fontSize":26},"encoding":{"x":{"datum":0,"type":"quantitative"},"y":{"datum":0,"type":"quantitative"}}},
{"mark":{"type":"text","text":"R","fontStyle":"italic","align":"left","baseline":"alphabetic","dx":29,"dy":65,"fontSize":26},"encoding":{"x":{"datum":0,"type":"quantitative"},"y":{"datum":0,"type":"quantitative"}}},
{"mark":{"type":"text","text":"[m kg","align":"left","baseline":"alphabetic","dx":62,"dy":65,"fontSize":26},"encoding":{"x":{"datum":0,"type":"quantitative"},"y":{"datum":0,"type":"quantitative"}}},
{"mark":{"type":"text","text":"-1/3","align":"left","baseline":"alphabetic","dx":129,"dy":50,"fontSize":15},"encoding":{"x":{"datum":0,"type":"quantitative"},"y":{"datum":0,"type":"quantitative"}}},
{"mark":{"type":"text","text":"]","align":"left","baseline":"alphabetic","dx":158,"dy":65,"fontSize":26},"encoding":{"x":{"datum":0,"type":"quantitative"},"y":{"datum":0,"type":"quantitative"}}},
{"mark":{"type":"text","text":"(a)","align":"right","baseline":"alphabetic","dx":-31,"dy":105,"fontSize":21,"fill":"#333"},"encoding":{"x":{"datum":0,"type":"quantitative"},"y":{"datum":0,"type":"quantitative"}}},
{"mark":{"type":"text","text":"R","fontStyle":"italic","align":"center","baseline":"alphabetic","dx":-21,"dy":105,"fontSize":21,"fill":"#333"},"encoding":{"x":{"datum":0,"type":"quantitative"},"y":{"datum":0,"type":"quantitative"}}},
{"mark":{"type":"text","text":"= 4","align":"left","baseline":"alphabetic","dx":-11,"dy":105,"fontSize":21,"fill":"#333"},"encoding":{"x":{"datum":0,"type":"quantitative"},"y":{"datum":0,"type":"quantitative"}}}
]},
{"width":342,"height":171,"data":{"values":[{}]},
"layer":[
{"data":{"name":"rings"},"mark":{"type":"arc","filled":false,"stroke":"#c4c4c4","strokeWidth":1,"strokeDash":[4,3]},"encoding":{"x":{"datum":0,"type":"quantitative","scale":{"domain":[-12,12],"nice":false,"zero":false},"axis":{"title":null,"values":[0,2,4,6,8,10,12],"labelExpr":"datum.value % 4 == 0 ? datum.label : ''"}},"y":{"datum":0,"type":"quantitative","scale":{"domain":[0,12],"nice":false,"zero":false}},"theta":{"datum":180,"type":"quantitative","scale":{"type":"linear","domain":[0,180],"range":[1.5707963,-1.5707963],"zero":false,"nice":false}},"theta2":{"datum":0},"radius":{"field":"r","type":"quantitative","stack":null,"scale":{"type":"linear","domain":[0,6],"range":[0,171],"zero":true,"nice":false}}}},
{"data":{"name":"spokes"},"mark":{"type":"arc","filled":false,"stroke":"#cccccc","strokeWidth":1,"strokeDash":[3.5,3.366]},"encoding":{"x":{"datum":0,"type":"quantitative"},"y":{"datum":0,"type":"quantitative"},"theta":{"field":"a","type":"quantitative","stack":null},"theta2":{"field":"a"},"radius":{"datum":6,"type":"quantitative"},"radius2":{"datum":1}}},
{"mark":{"type":"arc","filled":false,"stroke":"#8a8a8a","strokeWidth":1.3},"encoding":{"x":{"datum":0,"type":"quantitative"},"y":{"datum":0,"type":"quantitative"},"theta":{"datum":90,"type":"quantitative"},"theta2":{"datum":90},"radius":{"datum":6,"type":"quantitative"},"radius2":{"datum":0}}},
{"mark":{"type":"arc","filled":false,"stroke":"#000","strokeWidth":1.5},"encoding":{"x":{"datum":0,"type":"quantitative"},"y":{"datum":0,"type":"quantitative"},"theta":{"datum":180,"type":"quantitative"},"theta2":{"datum":0},"radius":{"datum":6,"type":"quantitative"}}},
{"mark":{"type":"arc","filled":false,"stroke":"#000","strokeWidth":2.6},"encoding":{"x":{"datum":0,"type":"quantitative"},"y":{"datum":0,"type":"quantitative"},"theta":{"datum":180,"type":"quantitative"},"theta2":{"datum":0},"radius":{"datum":4,"type":"quantitative"},"radius2":{"datum":4}}},
{"data":{"name":"ticks"},"mark":{"type":"arc","filled":false,"stroke":"#000","strokeWidth":1.2},"encoding":{"x":{"datum":0,"type":"quantitative"},"y":{"datum":0,"type":"quantitative"},"theta":{"field":"a","type":"quantitative","stack":null},"theta2":{"field":"a"},"radius":{"datum":6,"type":"quantitative"},"radius2":{"datum":5.58}}},
{"data":{"name":"alab"},"mark":{"type":"text","fontSize":22,"baseline":"middle"},"encoding":{"x":{"datum":0,"type":"quantitative"},"y":{"datum":0,"type":"quantitative"},"theta":{"field":"a","type":"quantitative"},"radius":{"datum":6.75,"type":"quantitative"},"text":{"field":"t"}}},
{"mark":{"type":"text","text":"90","fontSize":22,"baseline":"middle"},"encoding":{"x":{"datum":0,"type":"quantitative"},"y":{"datum":0,"type":"quantitative"},"theta":{"datum":90,"type":"quantitative"},"radius":{"datum":6.5,"type":"quantitative"}}},
{"mark":{"type":"text","text":"180","fontSize":22,"baseline":"middle","align":"right"},"encoding":{"x":{"datum":0,"type":"quantitative"},"y":{"datum":0,"type":"quantitative"},"theta":{"datum":180,"type":"quantitative"},"radius":{"datum":6.06,"type":"quantitative"}}},
{"mark":{"type":"text","text":"0","fontSize":22,"baseline":"middle","align":"left"},"encoding":{"x":{"datum":0,"type":"quantitative"},"y":{"datum":0,"type":"quantitative"},"theta":{"datum":0,"type":"quantitative"},"radius":{"datum":6.06,"type":"quantitative"}}},
{"data":{"name":"pts"},"transform":[{"filter":"datum.p=='Ab'"}],"mark":{"type":"line","strokeDash":[1.5,2],"strokeWidth":1.3},"encoding":{"x":{"field":"x","type":"quantitative"},"y":{"field":"y","type":"quantitative"},"order":{"field":"a","type":"quantitative"},"color":{"field":"s","type":"nominal","legend":null,"scale":{"domain":["w3","w9","w21","o3","o9","o21"],"range":["#000000","#ee3a2a","#2f8a2f","#8c8c8c","#f5821f","#3f4fc0"]}}}},
{"data":{"name":"pts"},"transform":[{"filter":"datum.p=='Ab'"}],"mark":{"type":"point","filled":true,"size":95,"strokeWidth":1.5,"opacity":1},"encoding":{"x":{"field":"x","type":"quantitative"},"y":{"field":"y","type":"quantitative"},"stroke":{"field":"s","type":"nominal","legend":null,"scale":{"domain":["w3","w9","w21","o3","o9","o21"],"range":["#000000","#ee3a2a","#2f8a2f","#8c8c8c","#f5821f","#3f4fc0"]}},"fill":{"field":"s","type":"nominal","legend":null,"scale":{"domain":["w3","w9","w21","o3","o9","o21"],"range":["#000000","transparent","transparent","transparent","transparent","transparent"]}},"shape":{"field":"s","type":"nominal","legend":null,"scale":{"domain":["w3","w9","w21","o3","o9","o21"],"range":["diamond","circle","triangle-up","diamond","M-1,-1L1,1M-1,1L1,-1","M-1,0L1,0M0,-1L0,1"]}}}},
{"mark":{"type":"text","text":"Scaled radius","align":"left","baseline":"alphabetic","dx":-115,"dy":65,"fontSize":26},"encoding":{"x":{"datum":0,"type":"quantitative"},"y":{"datum":0,"type":"quantitative"}}},
{"mark":{"type":"text","text":"R","fontStyle":"italic","align":"left","baseline":"alphabetic","dx":29,"dy":65,"fontSize":26},"encoding":{"x":{"datum":0,"type":"quantitative"},"y":{"datum":0,"type":"quantitative"}}},
{"mark":{"type":"text","text":"[m kg","align":"left","baseline":"alphabetic","dx":62,"dy":65,"fontSize":26},"encoding":{"x":{"datum":0,"type":"quantitative"},"y":{"datum":0,"type":"quantitative"}}},
{"mark":{"type":"text","text":"-1/3","align":"left","baseline":"alphabetic","dx":129,"dy":50,"fontSize":15},"encoding":{"x":{"datum":0,"type":"quantitative"},"y":{"datum":0,"type":"quantitative"}}},
{"mark":{"type":"text","text":"]","align":"left","baseline":"alphabetic","dx":158,"dy":65,"fontSize":26},"encoding":{"x":{"datum":0,"type":"quantitative"},"y":{"datum":0,"type":"quantitative"}}},
{"mark":{"type":"text","text":"(b)","align":"right","baseline":"alphabetic","dx":-31,"dy":105,"fontSize":21,"fill":"#333"},"encoding":{"x":{"datum":0,"type":"quantitative"},"y":{"datum":0,"type":"quantitative"}}},
{"mark":{"type":"text","text":"R","fontStyle":"italic","align":"center","baseline":"alphabetic","dx":-21,"dy":105,"fontSize":21,"fill":"#333"},"encoding":{"x":{"datum":0,"type":"quantitative"},"y":{"datum":0,"type":"quantitative"}}},
{"mark":{"type":"text","text":"= 8","align":"left","baseline":"alphabetic","dx":-11,"dy":105,"fontSize":21,"fill":"#333"},"encoding":{"x":{"datum":0,"type":"quantitative"},"y":{"datum":0,"type":"quantitative"}}}
]},
{"width":342,"height":277,"data":{"values":[{}]},
"layer":[
{"data":{"name":"rings"},"mark":{"type":"arc","filled":false,"stroke":"#c4c4c4","strokeWidth":1,"strokeDash":[4,3]},"encoding":{"x":{"datum":0,"type":"quantitative","scale":{"domain":[-18,18],"nice":false,"zero":false},"axis":{"title":null,"values":[0,3,6,9,12,15,18],"labelExpr":"datum.value % 6 == 0 ? datum.label : ''"}},"y":{"datum":0,"type":"quantitative","scale":{"domain":[0,29.1579],"nice":false,"zero":false}},"theta":{"datum":180,"type":"quantitative","scale":{"type":"linear","domain":[0,180],"range":[1.5707963,-1.5707963],"zero":false,"nice":false}},"theta2":{"datum":0},"radius":{"field":"r","type":"quantitative","stack":null,"scale":{"type":"linear","domain":[0,6],"range":[0,171],"zero":true,"nice":false}}}},
{"data":{"name":"spokes"},"mark":{"type":"arc","filled":false,"stroke":"#cccccc","strokeWidth":1,"strokeDash":[3.5,3.366]},"encoding":{"x":{"datum":0,"type":"quantitative"},"y":{"datum":0,"type":"quantitative"},"theta":{"field":"a","type":"quantitative","stack":null},"theta2":{"field":"a"},"radius":{"datum":6,"type":"quantitative"},"radius2":{"datum":1}}},
{"mark":{"type":"arc","filled":false,"stroke":"#8a8a8a","strokeWidth":1.3},"encoding":{"x":{"datum":0,"type":"quantitative"},"y":{"datum":0,"type":"quantitative"},"theta":{"datum":90,"type":"quantitative"},"theta2":{"datum":90},"radius":{"datum":6,"type":"quantitative"},"radius2":{"datum":0}}},
{"mark":{"type":"arc","filled":false,"stroke":"#000","strokeWidth":1.5},"encoding":{"x":{"datum":0,"type":"quantitative"},"y":{"datum":0,"type":"quantitative"},"theta":{"datum":180,"type":"quantitative"},"theta2":{"datum":0},"radius":{"datum":6,"type":"quantitative"}}},
{"mark":{"type":"arc","filled":false,"stroke":"#000","strokeWidth":2.6},"encoding":{"x":{"datum":0,"type":"quantitative"},"y":{"datum":0,"type":"quantitative"},"theta":{"datum":180,"type":"quantitative"},"theta2":{"datum":0},"radius":{"datum":4,"type":"quantitative"},"radius2":{"datum":4}}},
{"data":{"name":"ticks"},"mark":{"type":"arc","filled":false,"stroke":"#000","strokeWidth":1.2},"encoding":{"x":{"datum":0,"type":"quantitative"},"y":{"datum":0,"type":"quantitative"},"theta":{"field":"a","type":"quantitative","stack":null},"theta2":{"field":"a"},"radius":{"datum":6,"type":"quantitative"},"radius2":{"datum":5.58}}},
{"data":{"name":"alab"},"mark":{"type":"text","fontSize":22,"baseline":"middle"},"encoding":{"x":{"datum":0,"type":"quantitative"},"y":{"datum":0,"type":"quantitative"},"theta":{"field":"a","type":"quantitative"},"radius":{"datum":6.75,"type":"quantitative"},"text":{"field":"t"}}},
{"mark":{"type":"text","text":"90","fontSize":22,"baseline":"middle"},"encoding":{"x":{"datum":0,"type":"quantitative"},"y":{"datum":0,"type":"quantitative"},"theta":{"datum":90,"type":"quantitative"},"radius":{"datum":6.5,"type":"quantitative"}}},
{"mark":{"type":"text","text":"180","fontSize":22,"baseline":"middle","align":"right"},"encoding":{"x":{"datum":0,"type":"quantitative"},"y":{"datum":0,"type":"quantitative"},"theta":{"datum":180,"type":"quantitative"},"radius":{"datum":6.06,"type":"quantitative"}}},
{"mark":{"type":"text","text":"0","fontSize":22,"baseline":"middle","align":"left"},"encoding":{"x":{"datum":0,"type":"quantitative"},"y":{"datum":0,"type":"quantitative"},"theta":{"datum":0,"type":"quantitative"},"radius":{"datum":6.06,"type":"quantitative"}}},
{"data":{"name":"pts"},"transform":[{"filter":"datum.p=='Ac'"}],"mark":{"type":"line","strokeDash":[1.5,2],"strokeWidth":1.3},"encoding":{"x":{"field":"x","type":"quantitative"},"y":{"field":"y","type":"quantitative"},"order":{"field":"a","type":"quantitative"},"color":{"field":"s","type":"nominal","legend":null,"scale":{"domain":["w3","w9","w21","o3","o9","o21"],"range":["#000000","#ee3a2a","#2f8a2f","#8c8c8c","#f5821f","#3f4fc0"]}}}},
{"data":{"name":"pts"},"transform":[{"filter":"datum.p=='Ac'"}],"mark":{"type":"point","filled":true,"size":95,"strokeWidth":1.5,"opacity":1},"encoding":{"x":{"field":"x","type":"quantitative"},"y":{"field":"y","type":"quantitative"},"stroke":{"field":"s","type":"nominal","legend":null,"scale":{"domain":["w3","w9","w21","o3","o9","o21"],"range":["#000000","#ee3a2a","#2f8a2f","#8c8c8c","#f5821f","#3f4fc0"]}},"fill":{"field":"s","type":"nominal","legend":null,"scale":{"domain":["w3","w9","w21","o3","o9","o21"],"range":["#000000","transparent","transparent","transparent","transparent","transparent"]}},"shape":{"field":"s","type":"nominal","legend":null,"scale":{"domain":["w3","w9","w21","o3","o9","o21"],"range":["diamond","circle","triangle-up","diamond","M-1,-1L1,1M-1,1L1,-1","M-1,0L1,0M0,-1L0,1"]}}}},
{"mark":{"type":"text","text":"Scaled radius","align":"left","baseline":"alphabetic","dx":-115,"dy":65,"fontSize":26},"encoding":{"x":{"datum":0,"type":"quantitative"},"y":{"datum":0,"type":"quantitative"}}},
{"mark":{"type":"text","text":"R","fontStyle":"italic","align":"left","baseline":"alphabetic","dx":29,"dy":65,"fontSize":26},"encoding":{"x":{"datum":0,"type":"quantitative"},"y":{"datum":0,"type":"quantitative"}}},
{"mark":{"type":"text","text":"[m kg","align":"left","baseline":"alphabetic","dx":62,"dy":65,"fontSize":26},"encoding":{"x":{"datum":0,"type":"quantitative"},"y":{"datum":0,"type":"quantitative"}}},
{"mark":{"type":"text","text":"-1/3","align":"left","baseline":"alphabetic","dx":129,"dy":50,"fontSize":15},"encoding":{"x":{"datum":0,"type":"quantitative"},"y":{"datum":0,"type":"quantitative"}}},
{"mark":{"type":"text","text":"]","align":"left","baseline":"alphabetic","dx":158,"dy":65,"fontSize":26},"encoding":{"x":{"datum":0,"type":"quantitative"},"y":{"datum":0,"type":"quantitative"}}},
{"mark":{"type":"text","text":"(c)","align":"right","baseline":"alphabetic","dx":-36,"dy":105,"fontSize":21,"fill":"#333"},"encoding":{"x":{"datum":0,"type":"quantitative"},"y":{"datum":0,"type":"quantitative"}}},
{"mark":{"type":"text","text":"R","fontStyle":"italic","align":"center","baseline":"alphabetic","dx":-26,"dy":105,"fontSize":21,"fill":"#333"},"encoding":{"x":{"datum":0,"type":"quantitative"},"y":{"datum":0,"type":"quantitative"}}},
{"mark":{"type":"text","text":"= 12","align":"left","baseline":"alphabetic","dx":-16,"dy":105,"fontSize":21,"fill":"#333"},"encoding":{"x":{"datum":0,"type":"quantitative"},"y":{"datum":0,"type":"quantitative"}}},
{"mark":{"type":"text","text":"(A) with dike","align":"center","baseline":"alphabetic","dx":201,"dy":143,"fontSize":21,"fill":"#333"},"encoding":{"x":{"datum":0,"type":"quantitative"},"y":{"datum":0,"type":"quantitative"}}}
]},
{"width":342,"height":277,"data":{"values":[{}]},
"layer":[
{"data":{"name":"rings"},"mark":{"type":"arc","filled":false,"stroke":"#c4c4c4","strokeWidth":1,"strokeDash":[4,3]},"encoding":{"x":{"datum":0,"type":"quantitative","scale":{"domain":[-24,24],"nice":false,"zero":false},"axis":{"title":null,"values":[0,4,8,12,16,20,24],"labelExpr":"datum.value % 8 == 0 ? datum.label : ''"}},"y":{"datum":0,"type":"quantitative","scale":{"domain":[0,38.8772],"nice":false,"zero":false}},"theta":{"datum":180,"type":"quantitative","scale":{"type":"linear","domain":[0,180],"range":[1.5707963,-1.5707963],"zero":false,"nice":false}},"theta2":{"datum":0},"radius":{"field":"r","type":"quantitative","stack":null,"scale":{"type":"linear","domain":[0,6],"range":[0,171],"zero":true,"nice":false}}}},
{"data":{"name":"spokes"},"mark":{"type":"arc","filled":false,"stroke":"#cccccc","strokeWidth":1,"strokeDash":[3.5,3.366]},"encoding":{"x":{"datum":0,"type":"quantitative"},"y":{"datum":0,"type":"quantitative"},"theta":{"field":"a","type":"quantitative","stack":null},"theta2":{"field":"a"},"radius":{"datum":6,"type":"quantitative"},"radius2":{"datum":1}}},
{"mark":{"type":"arc","filled":false,"stroke":"#8a8a8a","strokeWidth":1.3},"encoding":{"x":{"datum":0,"type":"quantitative"},"y":{"datum":0,"type":"quantitative"},"theta":{"datum":90,"type":"quantitative"},"theta2":{"datum":90},"radius":{"datum":6,"type":"quantitative"},"radius2":{"datum":0}}},
{"mark":{"type":"arc","filled":false,"stroke":"#000","strokeWidth":1.5},"encoding":{"x":{"datum":0,"type":"quantitative"},"y":{"datum":0,"type":"quantitative"},"theta":{"datum":180,"type":"quantitative"},"theta2":{"datum":0},"radius":{"datum":6,"type":"quantitative"}}},
{"mark":{"type":"arc","filled":false,"stroke":"#000","strokeWidth":2.6},"encoding":{"x":{"datum":0,"type":"quantitative"},"y":{"datum":0,"type":"quantitative"},"theta":{"datum":180,"type":"quantitative"},"theta2":{"datum":0},"radius":{"datum":4,"type":"quantitative"},"radius2":{"datum":4}}},
{"data":{"name":"ticks"},"mark":{"type":"arc","filled":false,"stroke":"#000","strokeWidth":1.2},"encoding":{"x":{"datum":0,"type":"quantitative"},"y":{"datum":0,"type":"quantitative"},"theta":{"field":"a","type":"quantitative","stack":null},"theta2":{"field":"a"},"radius":{"datum":6,"type":"quantitative"},"radius2":{"datum":5.58}}},
{"data":{"name":"alab"},"mark":{"type":"text","fontSize":22,"baseline":"middle"},"encoding":{"x":{"datum":0,"type":"quantitative"},"y":{"datum":0,"type":"quantitative"},"theta":{"field":"a","type":"quantitative"},"radius":{"datum":6.75,"type":"quantitative"},"text":{"field":"t"}}},
{"mark":{"type":"text","text":"90","fontSize":22,"baseline":"middle"},"encoding":{"x":{"datum":0,"type":"quantitative"},"y":{"datum":0,"type":"quantitative"},"theta":{"datum":90,"type":"quantitative"},"radius":{"datum":6.5,"type":"quantitative"}}},
{"mark":{"type":"text","text":"180","fontSize":22,"baseline":"middle","align":"right"},"encoding":{"x":{"datum":0,"type":"quantitative"},"y":{"datum":0,"type":"quantitative"},"theta":{"datum":180,"type":"quantitative"},"radius":{"datum":6.06,"type":"quantitative"}}},
{"mark":{"type":"text","text":"0","fontSize":22,"baseline":"middle","align":"left"},"encoding":{"x":{"datum":0,"type":"quantitative"},"y":{"datum":0,"type":"quantitative"},"theta":{"datum":0,"type":"quantitative"},"radius":{"datum":6.06,"type":"quantitative"}}},
{"data":{"name":"pts"},"transform":[{"filter":"datum.p=='Ad'"}],"mark":{"type":"line","strokeDash":[1.5,2],"strokeWidth":1.3},"encoding":{"x":{"field":"x","type":"quantitative"},"y":{"field":"y","type":"quantitative"},"order":{"field":"a","type":"quantitative"},"color":{"field":"s","type":"nominal","legend":null,"scale":{"domain":["w3","w9","w21","o3","o9","o21"],"range":["#000000","#ee3a2a","#2f8a2f","#8c8c8c","#f5821f","#3f4fc0"]}}}},
{"data":{"name":"pts"},"transform":[{"filter":"datum.p=='Ad'"}],"mark":{"type":"point","filled":true,"size":95,"strokeWidth":1.5,"opacity":1},"encoding":{"x":{"field":"x","type":"quantitative"},"y":{"field":"y","type":"quantitative"},"stroke":{"field":"s","type":"nominal","legend":null,"scale":{"domain":["w3","w9","w21","o3","o9","o21"],"range":["#000000","#ee3a2a","#2f8a2f","#8c8c8c","#f5821f","#3f4fc0"]}},"fill":{"field":"s","type":"nominal","legend":null,"scale":{"domain":["w3","w9","w21","o3","o9","o21"],"range":["#000000","transparent","transparent","transparent","transparent","transparent"]}},"shape":{"field":"s","type":"nominal","legend":null,"scale":{"domain":["w3","w9","w21","o3","o9","o21"],"range":["diamond","circle","triangle-up","diamond","M-1,-1L1,1M-1,1L1,-1","M-1,0L1,0M0,-1L0,1"]}}}},
{"mark":{"type":"text","text":"Scaled radius","align":"left","baseline":"alphabetic","dx":-115,"dy":65,"fontSize":26},"encoding":{"x":{"datum":0,"type":"quantitative"},"y":{"datum":0,"type":"quantitative"}}},
{"mark":{"type":"text","text":"R","fontStyle":"italic","align":"left","baseline":"alphabetic","dx":29,"dy":65,"fontSize":26},"encoding":{"x":{"datum":0,"type":"quantitative"},"y":{"datum":0,"type":"quantitative"}}},
{"mark":{"type":"text","text":"[m kg","align":"left","baseline":"alphabetic","dx":62,"dy":65,"fontSize":26},"encoding":{"x":{"datum":0,"type":"quantitative"},"y":{"datum":0,"type":"quantitative"}}},
{"mark":{"type":"text","text":"-1/3","align":"left","baseline":"alphabetic","dx":129,"dy":50,"fontSize":15},"encoding":{"x":{"datum":0,"type":"quantitative"},"y":{"datum":0,"type":"quantitative"}}},
{"mark":{"type":"text","text":"]","align":"left","baseline":"alphabetic","dx":158,"dy":65,"fontSize":26},"encoding":{"x":{"datum":0,"type":"quantitative"},"y":{"datum":0,"type":"quantitative"}}},
{"mark":{"type":"text","text":"(d)","align":"right","baseline":"alphabetic","dx":-36,"dy":105,"fontSize":21,"fill":"#333"},"encoding":{"x":{"datum":0,"type":"quantitative"},"y":{"datum":0,"type":"quantitative"}}},
{"mark":{"type":"text","text":"R","fontStyle":"italic","align":"center","baseline":"alphabetic","dx":-26,"dy":105,"fontSize":21,"fill":"#333"},"encoding":{"x":{"datum":0,"type":"quantitative"},"y":{"datum":0,"type":"quantitative"}}},
{"mark":{"type":"text","text":"= 16","align":"left","baseline":"alphabetic","dx":-16,"dy":105,"fontSize":21,"fill":"#333"},"encoding":{"x":{"datum":0,"type":"quantitative"},"y":{"datum":0,"type":"quantitative"}}}
]},
{"width":342,"height":317,"data":{"values":[{}]},
"layer":[
{"data":{"name":"rings"},"mark":{"type":"arc","filled":false,"stroke":"#c4c4c4","strokeWidth":1,"strokeDash":[4,3]},"encoding":{"x":{"datum":0,"type":"quantitative","scale":{"domain":[-6,6],"nice":false,"zero":false},"axis":{"title":null,"values":[0,1,2,3,4,5,6],"labelExpr":"datum.value % 2 == 0 ? datum.label : ''"}},"y":{"datum":0,"type":"quantitative","scale":{"domain":[0,11.1228],"nice":false,"zero":false}},"theta":{"datum":180,"type":"quantitative","scale":{"type":"linear","domain":[0,180],"range":[1.5707963,-1.5707963],"zero":false,"nice":false}},"theta2":{"datum":0},"radius":{"field":"r","type":"quantitative","stack":null,"scale":{"type":"linear","domain":[0,6],"range":[0,171],"zero":true,"nice":false}}}},
{"data":{"name":"spokes"},"mark":{"type":"arc","filled":false,"stroke":"#cccccc","strokeWidth":1,"strokeDash":[3.5,3.366]},"encoding":{"x":{"datum":0,"type":"quantitative"},"y":{"datum":0,"type":"quantitative"},"theta":{"field":"a","type":"quantitative","stack":null},"theta2":{"field":"a"},"radius":{"datum":6,"type":"quantitative"},"radius2":{"datum":1}}},
{"mark":{"type":"arc","filled":false,"stroke":"#8a8a8a","strokeWidth":1.3},"encoding":{"x":{"datum":0,"type":"quantitative"},"y":{"datum":0,"type":"quantitative"},"theta":{"datum":90,"type":"quantitative"},"theta2":{"datum":90},"radius":{"datum":6,"type":"quantitative"},"radius2":{"datum":0}}},
{"mark":{"type":"arc","filled":false,"stroke":"#000","strokeWidth":1.5},"encoding":{"x":{"datum":0,"type":"quantitative"},"y":{"datum":0,"type":"quantitative"},"theta":{"datum":180,"type":"quantitative"},"theta2":{"datum":0},"radius":{"datum":6,"type":"quantitative"}}},
{"mark":{"type":"arc","filled":false,"stroke":"#000","strokeWidth":2.6},"encoding":{"x":{"datum":0,"type":"quantitative"},"y":{"datum":0,"type":"quantitative"},"theta":{"datum":180,"type":"quantitative"},"theta2":{"datum":0},"radius":{"datum":4,"type":"quantitative"},"radius2":{"datum":4}}},
{"data":{"name":"ticks"},"mark":{"type":"arc","filled":false,"stroke":"#000","strokeWidth":1.2},"encoding":{"x":{"datum":0,"type":"quantitative"},"y":{"datum":0,"type":"quantitative"},"theta":{"field":"a","type":"quantitative","stack":null},"theta2":{"field":"a"},"radius":{"datum":6,"type":"quantitative"},"radius2":{"datum":5.58}}},
{"data":{"name":"alab"},"mark":{"type":"text","fontSize":22,"baseline":"middle"},"encoding":{"x":{"datum":0,"type":"quantitative"},"y":{"datum":0,"type":"quantitative"},"theta":{"field":"a","type":"quantitative"},"radius":{"datum":6.75,"type":"quantitative"},"text":{"field":"t"}}},
{"mark":{"type":"text","text":"90","fontSize":22,"baseline":"middle"},"encoding":{"x":{"datum":0,"type":"quantitative"},"y":{"datum":0,"type":"quantitative"},"theta":{"datum":90,"type":"quantitative"},"radius":{"datum":6.5,"type":"quantitative"}}},
{"mark":{"type":"text","text":"180","fontSize":22,"baseline":"middle","align":"right"},"encoding":{"x":{"datum":0,"type":"quantitative"},"y":{"datum":0,"type":"quantitative"},"theta":{"datum":180,"type":"quantitative"},"radius":{"datum":6.06,"type":"quantitative"}}},
{"mark":{"type":"text","text":"0","fontSize":22,"baseline":"middle","align":"left"},"encoding":{"x":{"datum":0,"type":"quantitative"},"y":{"datum":0,"type":"quantitative"},"theta":{"datum":0,"type":"quantitative"},"radius":{"datum":6.06,"type":"quantitative"}}},
{"data":{"name":"pts"},"transform":[{"filter":"datum.p=='Ba'"}],"mark":{"type":"line","strokeDash":[1.5,2],"strokeWidth":1.3},"encoding":{"x":{"field":"x","type":"quantitative"},"y":{"field":"y","type":"quantitative"},"order":{"field":"a","type":"quantitative"},"color":{"field":"s","type":"nominal","legend":null,"scale":{"domain":["w3","w9","w21","o3","o9","o21"],"range":["#000000","#ee3a2a","#2f8a2f","#8c8c8c","#f5821f","#3f4fc0"]}}}},
{"data":{"name":"pts"},"transform":[{"filter":"datum.p=='Ba'"}],"mark":{"type":"point","filled":true,"size":95,"strokeWidth":1.5,"opacity":1},"encoding":{"x":{"field":"x","type":"quantitative"},"y":{"field":"y","type":"quantitative"},"stroke":{"field":"s","type":"nominal","legend":null,"scale":{"domain":["w3","w9","w21","o3","o9","o21"],"range":["#000000","#ee3a2a","#2f8a2f","#8c8c8c","#f5821f","#3f4fc0"]}},"fill":{"field":"s","type":"nominal","legend":null,"scale":{"domain":["w3","w9","w21","o3","o9","o21"],"range":["#000000","transparent","transparent","transparent","transparent","transparent"]}},"shape":{"field":"s","type":"nominal","legend":null,"scale":{"domain":["w3","w9","w21","o3","o9","o21"],"range":["diamond","circle","triangle-up","diamond","M-1,-1L1,1M-1,1L1,-1","M-1,0L1,0M0,-1L0,1"]}}}},
{"mark":{"type":"text","text":"Scaled radius","align":"left","baseline":"alphabetic","dx":-115,"dy":65,"fontSize":26},"encoding":{"x":{"datum":0,"type":"quantitative"},"y":{"datum":0,"type":"quantitative"}}},
{"mark":{"type":"text","text":"R","fontStyle":"italic","align":"left","baseline":"alphabetic","dx":29,"dy":65,"fontSize":26},"encoding":{"x":{"datum":0,"type":"quantitative"},"y":{"datum":0,"type":"quantitative"}}},
{"mark":{"type":"text","text":"[m kg","align":"left","baseline":"alphabetic","dx":62,"dy":65,"fontSize":26},"encoding":{"x":{"datum":0,"type":"quantitative"},"y":{"datum":0,"type":"quantitative"}}},
{"mark":{"type":"text","text":"-1/3","align":"left","baseline":"alphabetic","dx":129,"dy":50,"fontSize":15},"encoding":{"x":{"datum":0,"type":"quantitative"},"y":{"datum":0,"type":"quantitative"}}},
{"mark":{"type":"text","text":"]","align":"left","baseline":"alphabetic","dx":158,"dy":65,"fontSize":26},"encoding":{"x":{"datum":0,"type":"quantitative"},"y":{"datum":0,"type":"quantitative"}}},
{"mark":{"type":"text","text":"(a)","align":"right","baseline":"alphabetic","dx":-31,"dy":105,"fontSize":21,"fill":"#333"},"encoding":{"x":{"datum":0,"type":"quantitative"},"y":{"datum":0,"type":"quantitative"}}},
{"mark":{"type":"text","text":"R","fontStyle":"italic","align":"center","baseline":"alphabetic","dx":-21,"dy":105,"fontSize":21,"fill":"#333"},"encoding":{"x":{"datum":0,"type":"quantitative"},"y":{"datum":0,"type":"quantitative"}}},
{"mark":{"type":"text","text":"= 4","align":"left","baseline":"alphabetic","dx":-11,"dy":105,"fontSize":21,"fill":"#333"},"encoding":{"x":{"datum":0,"type":"quantitative"},"y":{"datum":0,"type":"quantitative"}}}
]},
{"width":342,"height":317,"data":{"values":[{}]},
"layer":[
{"data":{"name":"rings"},"mark":{"type":"arc","filled":false,"stroke":"#c4c4c4","strokeWidth":1,"strokeDash":[4,3]},"encoding":{"x":{"datum":0,"type":"quantitative","scale":{"domain":[-12,12],"nice":false,"zero":false},"axis":{"title":null,"values":[0,2,4,6,8,10,12],"labelExpr":"datum.value % 4 == 0 ? datum.label : ''"}},"y":{"datum":0,"type":"quantitative","scale":{"domain":[0,22.2456],"nice":false,"zero":false}},"theta":{"datum":180,"type":"quantitative","scale":{"type":"linear","domain":[0,180],"range":[1.5707963,-1.5707963],"zero":false,"nice":false}},"theta2":{"datum":0},"radius":{"field":"r","type":"quantitative","stack":null,"scale":{"type":"linear","domain":[0,6],"range":[0,171],"zero":true,"nice":false}}}},
{"data":{"name":"spokes"},"mark":{"type":"arc","filled":false,"stroke":"#cccccc","strokeWidth":1,"strokeDash":[3.5,3.366]},"encoding":{"x":{"datum":0,"type":"quantitative"},"y":{"datum":0,"type":"quantitative"},"theta":{"field":"a","type":"quantitative","stack":null},"theta2":{"field":"a"},"radius":{"datum":6,"type":"quantitative"},"radius2":{"datum":1}}},
{"mark":{"type":"arc","filled":false,"stroke":"#8a8a8a","strokeWidth":1.3},"encoding":{"x":{"datum":0,"type":"quantitative"},"y":{"datum":0,"type":"quantitative"},"theta":{"datum":90,"type":"quantitative"},"theta2":{"datum":90},"radius":{"datum":6,"type":"quantitative"},"radius2":{"datum":0}}},
{"mark":{"type":"arc","filled":false,"stroke":"#000","strokeWidth":1.5},"encoding":{"x":{"datum":0,"type":"quantitative"},"y":{"datum":0,"type":"quantitative"},"theta":{"datum":180,"type":"quantitative"},"theta2":{"datum":0},"radius":{"datum":6,"type":"quantitative"}}},
{"mark":{"type":"arc","filled":false,"stroke":"#000","strokeWidth":2.6},"encoding":{"x":{"datum":0,"type":"quantitative"},"y":{"datum":0,"type":"quantitative"},"theta":{"datum":180,"type":"quantitative"},"theta2":{"datum":0},"radius":{"datum":4,"type":"quantitative"},"radius2":{"datum":4}}},
{"data":{"name":"ticks"},"mark":{"type":"arc","filled":false,"stroke":"#000","strokeWidth":1.2},"encoding":{"x":{"datum":0,"type":"quantitative"},"y":{"datum":0,"type":"quantitative"},"theta":{"field":"a","type":"quantitative","stack":null},"theta2":{"field":"a"},"radius":{"datum":6,"type":"quantitative"},"radius2":{"datum":5.58}}},
{"data":{"name":"alab"},"mark":{"type":"text","fontSize":22,"baseline":"middle"},"encoding":{"x":{"datum":0,"type":"quantitative"},"y":{"datum":0,"type":"quantitative"},"theta":{"field":"a","type":"quantitative"},"radius":{"datum":6.75,"type":"quantitative"},"text":{"field":"t"}}},
{"mark":{"type":"text","text":"90","fontSize":22,"baseline":"middle"},"encoding":{"x":{"datum":0,"type":"quantitative"},"y":{"datum":0,"type":"quantitative"},"theta":{"datum":90,"type":"quantitative"},"radius":{"datum":6.5,"type":"quantitative"}}},
{"mark":{"type":"text","text":"180","fontSize":22,"baseline":"middle","align":"right"},"encoding":{"x":{"datum":0,"type":"quantitative"},"y":{"datum":0,"type":"quantitative"},"theta":{"datum":180,"type":"quantitative"},"radius":{"datum":6.06,"type":"quantitative"}}},
{"mark":{"type":"text","text":"0","fontSize":22,"baseline":"middle","align":"left"},"encoding":{"x":{"datum":0,"type":"quantitative"},"y":{"datum":0,"type":"quantitative"},"theta":{"datum":0,"type":"quantitative"},"radius":{"datum":6.06,"type":"quantitative"}}},
{"data":{"name":"pts"},"transform":[{"filter":"datum.p=='Bb'"}],"mark":{"type":"line","strokeDash":[1.5,2],"strokeWidth":1.3},"encoding":{"x":{"field":"x","type":"quantitative"},"y":{"field":"y","type":"quantitative"},"order":{"field":"a","type":"quantitative"},"color":{"field":"s","type":"nominal","legend":null,"scale":{"domain":["w3","w9","w21","o3","o9","o21"],"range":["#000000","#ee3a2a","#2f8a2f","#8c8c8c","#f5821f","#3f4fc0"]}}}},
{"data":{"name":"pts"},"transform":[{"filter":"datum.p=='Bb'"}],"mark":{"type":"point","filled":true,"size":95,"strokeWidth":1.5,"opacity":1},"encoding":{"x":{"field":"x","type":"quantitative"},"y":{"field":"y","type":"quantitative"},"stroke":{"field":"s","type":"nominal","legend":null,"scale":{"domain":["w3","w9","w21","o3","o9","o21"],"range":["#000000","#ee3a2a","#2f8a2f","#8c8c8c","#f5821f","#3f4fc0"]}},"fill":{"field":"s","type":"nominal","legend":null,"scale":{"domain":["w3","w9","w21","o3","o9","o21"],"range":["#000000","transparent","transparent","transparent","transparent","transparent"]}},"shape":{"field":"s","type":"nominal","legend":null,"scale":{"domain":["w3","w9","w21","o3","o9","o21"],"range":["diamond","circle","triangle-up","diamond","M-1,-1L1,1M-1,1L1,-1","M-1,0L1,0M0,-1L0,1"]}}}},
{"mark":{"type":"text","text":"Scaled radius","align":"left","baseline":"alphabetic","dx":-115,"dy":65,"fontSize":26},"encoding":{"x":{"datum":0,"type":"quantitative"},"y":{"datum":0,"type":"quantitative"}}},
{"mark":{"type":"text","text":"R","fontStyle":"italic","align":"left","baseline":"alphabetic","dx":29,"dy":65,"fontSize":26},"encoding":{"x":{"datum":0,"type":"quantitative"},"y":{"datum":0,"type":"quantitative"}}},
{"mark":{"type":"text","text":"[m kg","align":"left","baseline":"alphabetic","dx":62,"dy":65,"fontSize":26},"encoding":{"x":{"datum":0,"type":"quantitative"},"y":{"datum":0,"type":"quantitative"}}},
{"mark":{"type":"text","text":"-1/3","align":"left","baseline":"alphabetic","dx":129,"dy":50,"fontSize":15},"encoding":{"x":{"datum":0,"type":"quantitative"},"y":{"datum":0,"type":"quantitative"}}},
{"mark":{"type":"text","text":"]","align":"left","baseline":"alphabetic","dx":158,"dy":65,"fontSize":26},"encoding":{"x":{"datum":0,"type":"quantitative"},"y":{"datum":0,"type":"quantitative"}}},
{"mark":{"type":"text","text":"(b)","align":"right","baseline":"alphabetic","dx":-31,"dy":105,"fontSize":21,"fill":"#333"},"encoding":{"x":{"datum":0,"type":"quantitative"},"y":{"datum":0,"type":"quantitative"}}},
{"mark":{"type":"text","text":"R","fontStyle":"italic","align":"center","baseline":"alphabetic","dx":-21,"dy":105,"fontSize":21,"fill":"#333"},"encoding":{"x":{"datum":0,"type":"quantitative"},"y":{"datum":0,"type":"quantitative"}}},
{"mark":{"type":"text","text":"= 8","align":"left","baseline":"alphabetic","dx":-11,"dy":105,"fontSize":21,"fill":"#333"},"encoding":{"x":{"datum":0,"type":"quantitative"},"y":{"datum":0,"type":"quantitative"}}}
]},
{"width":342,"height":276,"data":{"values":[{}]},
"layer":[
{"data":{"name":"rings"},"mark":{"type":"arc","filled":false,"stroke":"#c4c4c4","strokeWidth":1,"strokeDash":[4,3]},"encoding":{"x":{"datum":0,"type":"quantitative","scale":{"domain":[-18,18],"nice":false,"zero":false},"axis":{"title":null,"values":[0,3,6,9,12,15,18],"labelExpr":"datum.value % 6 == 0 ? datum.label : ''"}},"y":{"datum":0,"type":"quantitative","scale":{"domain":[0,29.0526],"nice":false,"zero":false}},"theta":{"datum":180,"type":"quantitative","scale":{"type":"linear","domain":[0,180],"range":[1.5707963,-1.5707963],"zero":false,"nice":false}},"theta2":{"datum":0},"radius":{"field":"r","type":"quantitative","stack":null,"scale":{"type":"linear","domain":[0,6],"range":[0,171],"zero":true,"nice":false}}}},
{"data":{"name":"spokes"},"mark":{"type":"arc","filled":false,"stroke":"#cccccc","strokeWidth":1,"strokeDash":[3.5,3.366]},"encoding":{"x":{"datum":0,"type":"quantitative"},"y":{"datum":0,"type":"quantitative"},"theta":{"field":"a","type":"quantitative","stack":null},"theta2":{"field":"a"},"radius":{"datum":6,"type":"quantitative"},"radius2":{"datum":1}}},
{"mark":{"type":"arc","filled":false,"stroke":"#8a8a8a","strokeWidth":1.3},"encoding":{"x":{"datum":0,"type":"quantitative"},"y":{"datum":0,"type":"quantitative"},"theta":{"datum":90,"type":"quantitative"},"theta2":{"datum":90},"radius":{"datum":6,"type":"quantitative"},"radius2":{"datum":0}}},
{"mark":{"type":"arc","filled":false,"stroke":"#000","strokeWidth":1.5},"encoding":{"x":{"datum":0,"type":"quantitative"},"y":{"datum":0,"type":"quantitative"},"theta":{"datum":180,"type":"quantitative"},"theta2":{"datum":0},"radius":{"datum":6,"type":"quantitative"}}},
{"mark":{"type":"arc","filled":false,"stroke":"#000","strokeWidth":2.6},"encoding":{"x":{"datum":0,"type":"quantitative"},"y":{"datum":0,"type":"quantitative"},"theta":{"datum":180,"type":"quantitative"},"theta2":{"datum":0},"radius":{"datum":4,"type":"quantitative"},"radius2":{"datum":4}}},
{"data":{"name":"ticks"},"mark":{"type":"arc","filled":false,"stroke":"#000","strokeWidth":1.2},"encoding":{"x":{"datum":0,"type":"quantitative"},"y":{"datum":0,"type":"quantitative"},"theta":{"field":"a","type":"quantitative","stack":null},"theta2":{"field":"a"},"radius":{"datum":6,"type":"quantitative"},"radius2":{"datum":5.58}}},
{"data":{"name":"alab"},"mark":{"type":"text","fontSize":22,"baseline":"middle"},"encoding":{"x":{"datum":0,"type":"quantitative"},"y":{"datum":0,"type":"quantitative"},"theta":{"field":"a","type":"quantitative"},"radius":{"datum":6.75,"type":"quantitative"},"text":{"field":"t"}}},
{"mark":{"type":"text","text":"90","fontSize":22,"baseline":"middle"},"encoding":{"x":{"datum":0,"type":"quantitative"},"y":{"datum":0,"type":"quantitative"},"theta":{"datum":90,"type":"quantitative"},"radius":{"datum":6.5,"type":"quantitative"}}},
{"mark":{"type":"text","text":"180","fontSize":22,"baseline":"middle","align":"right"},"encoding":{"x":{"datum":0,"type":"quantitative"},"y":{"datum":0,"type":"quantitative"},"theta":{"datum":180,"type":"quantitative"},"radius":{"datum":6.06,"type":"quantitative"}}},
{"mark":{"type":"text","text":"0","fontSize":22,"baseline":"middle","align":"left"},"encoding":{"x":{"datum":0,"type":"quantitative"},"y":{"datum":0,"type":"quantitative"},"theta":{"datum":0,"type":"quantitative"},"radius":{"datum":6.06,"type":"quantitative"}}},
{"data":{"name":"pts"},"transform":[{"filter":"datum.p=='Bc'"}],"mark":{"type":"line","strokeDash":[1.5,2],"strokeWidth":1.3},"encoding":{"x":{"field":"x","type":"quantitative"},"y":{"field":"y","type":"quantitative"},"order":{"field":"a","type":"quantitative"},"color":{"field":"s","type":"nominal","legend":null,"scale":{"domain":["w3","w9","w21","o3","o9","o21"],"range":["#000000","#ee3a2a","#2f8a2f","#8c8c8c","#f5821f","#3f4fc0"]}}}},
{"data":{"name":"pts"},"transform":[{"filter":"datum.p=='Bc'"}],"mark":{"type":"point","filled":true,"size":95,"strokeWidth":1.5,"opacity":1},"encoding":{"x":{"field":"x","type":"quantitative"},"y":{"field":"y","type":"quantitative"},"stroke":{"field":"s","type":"nominal","legend":null,"scale":{"domain":["w3","w9","w21","o3","o9","o21"],"range":["#000000","#ee3a2a","#2f8a2f","#8c8c8c","#f5821f","#3f4fc0"]}},"fill":{"field":"s","type":"nominal","legend":null,"scale":{"domain":["w3","w9","w21","o3","o9","o21"],"range":["#000000","transparent","transparent","transparent","transparent","transparent"]}},"shape":{"field":"s","type":"nominal","legend":null,"scale":{"domain":["w3","w9","w21","o3","o9","o21"],"range":["diamond","circle","triangle-up","diamond","M-1,-1L1,1M-1,1L1,-1","M-1,0L1,0M0,-1L0,1"]}}}},
{"mark":{"type":"text","text":"Scaled radius","align":"left","baseline":"alphabetic","dx":-115,"dy":65,"fontSize":26},"encoding":{"x":{"datum":0,"type":"quantitative"},"y":{"datum":0,"type":"quantitative"}}},
{"mark":{"type":"text","text":"R","fontStyle":"italic","align":"left","baseline":"alphabetic","dx":29,"dy":65,"fontSize":26},"encoding":{"x":{"datum":0,"type":"quantitative"},"y":{"datum":0,"type":"quantitative"}}},
{"mark":{"type":"text","text":"[m kg","align":"left","baseline":"alphabetic","dx":62,"dy":65,"fontSize":26},"encoding":{"x":{"datum":0,"type":"quantitative"},"y":{"datum":0,"type":"quantitative"}}},
{"mark":{"type":"text","text":"-1/3","align":"left","baseline":"alphabetic","dx":129,"dy":50,"fontSize":15},"encoding":{"x":{"datum":0,"type":"quantitative"},"y":{"datum":0,"type":"quantitative"}}},
{"mark":{"type":"text","text":"]","align":"left","baseline":"alphabetic","dx":158,"dy":65,"fontSize":26},"encoding":{"x":{"datum":0,"type":"quantitative"},"y":{"datum":0,"type":"quantitative"}}},
{"mark":{"type":"text","text":"(c)","align":"right","baseline":"alphabetic","dx":-36,"dy":105,"fontSize":21,"fill":"#333"},"encoding":{"x":{"datum":0,"type":"quantitative"},"y":{"datum":0,"type":"quantitative"}}},
{"mark":{"type":"text","text":"R","fontStyle":"italic","align":"center","baseline":"alphabetic","dx":-26,"dy":105,"fontSize":21,"fill":"#333"},"encoding":{"x":{"datum":0,"type":"quantitative"},"y":{"datum":0,"type":"quantitative"}}},
{"mark":{"type":"text","text":"= 12","align":"left","baseline":"alphabetic","dx":-16,"dy":105,"fontSize":21,"fill":"#333"},"encoding":{"x":{"datum":0,"type":"quantitative"},"y":{"datum":0,"type":"quantitative"}}},
{"mark":{"type":"text","text":"(B) without dike","align":"center","baseline":"alphabetic","dx":201,"dy":138,"fontSize":21,"fill":"#333"},"encoding":{"x":{"datum":0,"type":"quantitative"},"y":{"datum":0,"type":"quantitative"}}}
]},
{"width":342,"height":276,"data":{"values":[{}]},
"layer":[
{"data":{"name":"rings"},"mark":{"type":"arc","filled":false,"stroke":"#c4c4c4","strokeWidth":1,"strokeDash":[4,3]},"encoding":{"x":{"datum":0,"type":"quantitative","scale":{"domain":[-24,24],"nice":false,"zero":false},"axis":{"title":null,"values":[0,4,8,12,16,20,24],"labelExpr":"datum.value % 8 == 0 ? datum.label : ''"}},"y":{"datum":0,"type":"quantitative","scale":{"domain":[0,38.7368],"nice":false,"zero":false}},"theta":{"datum":180,"type":"quantitative","scale":{"type":"linear","domain":[0,180],"range":[1.5707963,-1.5707963],"zero":false,"nice":false}},"theta2":{"datum":0},"radius":{"field":"r","type":"quantitative","stack":null,"scale":{"type":"linear","domain":[0,6],"range":[0,171],"zero":true,"nice":false}}}},
{"data":{"name":"spokes"},"mark":{"type":"arc","filled":false,"stroke":"#cccccc","strokeWidth":1,"strokeDash":[3.5,3.366]},"encoding":{"x":{"datum":0,"type":"quantitative"},"y":{"datum":0,"type":"quantitative"},"theta":{"field":"a","type":"quantitative","stack":null},"theta2":{"field":"a"},"radius":{"datum":6,"type":"quantitative"},"radius2":{"datum":1}}},
{"mark":{"type":"arc","filled":false,"stroke":"#8a8a8a","strokeWidth":1.3},"encoding":{"x":{"datum":0,"type":"quantitative"},"y":{"datum":0,"type":"quantitative"},"theta":{"datum":90,"type":"quantitative"},"theta2":{"datum":90},"radius":{"datum":6,"type":"quantitative"},"radius2":{"datum":0}}},
{"mark":{"type":"arc","filled":false,"stroke":"#000","strokeWidth":1.5},"encoding":{"x":{"datum":0,"type":"quantitative"},"y":{"datum":0,"type":"quantitative"},"theta":{"datum":180,"type":"quantitative"},"theta2":{"datum":0},"radius":{"datum":6,"type":"quantitative"}}},
{"mark":{"type":"arc","filled":false,"stroke":"#000","strokeWidth":2.6},"encoding":{"x":{"datum":0,"type":"quantitative"},"y":{"datum":0,"type":"quantitative"},"theta":{"datum":180,"type":"quantitative"},"theta2":{"datum":0},"radius":{"datum":4,"type":"quantitative"},"radius2":{"datum":4}}},
{"data":{"name":"ticks"},"mark":{"type":"arc","filled":false,"stroke":"#000","strokeWidth":1.2},"encoding":{"x":{"datum":0,"type":"quantitative"},"y":{"datum":0,"type":"quantitative"},"theta":{"field":"a","type":"quantitative","stack":null},"theta2":{"field":"a"},"radius":{"datum":6,"type":"quantitative"},"radius2":{"datum":5.58}}},
{"data":{"name":"alab"},"mark":{"type":"text","fontSize":22,"baseline":"middle"},"encoding":{"x":{"datum":0,"type":"quantitative"},"y":{"datum":0,"type":"quantitative"},"theta":{"field":"a","type":"quantitative"},"radius":{"datum":6.75,"type":"quantitative"},"text":{"field":"t"}}},
{"mark":{"type":"text","text":"90","fontSize":22,"baseline":"middle"},"encoding":{"x":{"datum":0,"type":"quantitative"},"y":{"datum":0,"type":"quantitative"},"theta":{"datum":90,"type":"quantitative"},"radius":{"datum":6.5,"type":"quantitative"}}},
{"mark":{"type":"text","text":"180","fontSize":22,"baseline":"middle","align":"right"},"encoding":{"x":{"datum":0,"type":"quantitative"},"y":{"datum":0,"type":"quantitative"},"theta":{"datum":180,"type":"quantitative"},"radius":{"datum":6.06,"type":"quantitative"}}},
{"mark":{"type":"text","text":"0","fontSize":22,"baseline":"middle","align":"left"},"encoding":{"x":{"datum":0,"type":"quantitative"},"y":{"datum":0,"type":"quantitative"},"theta":{"datum":0,"type":"quantitative"},"radius":{"datum":6.06,"type":"quantitative"}}},
{"data":{"name":"pts"},"transform":[{"filter":"datum.p=='Bd'"}],"mark":{"type":"line","strokeDash":[1.5,2],"strokeWidth":1.3},"encoding":{"x":{"field":"x","type":"quantitative"},"y":{"field":"y","type":"quantitative"},"order":{"field":"a","type":"quantitative"},"color":{"field":"s","type":"nominal","legend":null,"scale":{"domain":["w3","w9","w21","o3","o9","o21"],"range":["#000000","#ee3a2a","#2f8a2f","#8c8c8c","#f5821f","#3f4fc0"]}}}},
{"data":{"name":"pts"},"transform":[{"filter":"datum.p=='Bd'"}],"mark":{"type":"point","filled":true,"size":95,"strokeWidth":1.5,"opacity":1},"encoding":{"x":{"field":"x","type":"quantitative"},"y":{"field":"y","type":"quantitative"},"stroke":{"field":"s","type":"nominal","legend":null,"scale":{"domain":["w3","w9","w21","o3","o9","o21"],"range":["#000000","#ee3a2a","#2f8a2f","#8c8c8c","#f5821f","#3f4fc0"]}},"fill":{"field":"s","type":"nominal","legend":null,"scale":{"domain":["w3","w9","w21","o3","o9","o21"],"range":["#000000","transparent","transparent","transparent","transparent","transparent"]}},"shape":{"field":"s","type":"nominal","legend":null,"scale":{"domain":["w3","w9","w21","o3","o9","o21"],"range":["diamond","circle","triangle-up","diamond","M-1,-1L1,1M-1,1L1,-1","M-1,0L1,0M0,-1L0,1"]}}}},
{"mark":{"type":"text","text":"Scaled radius","align":"left","baseline":"alphabetic","dx":-115,"dy":65,"fontSize":26},"encoding":{"x":{"datum":0,"type":"quantitative"},"y":{"datum":0,"type":"quantitative"}}},
{"mark":{"type":"text","text":"R","fontStyle":"italic","align":"left","baseline":"alphabetic","dx":29,"dy":65,"fontSize":26},"encoding":{"x":{"datum":0,"type":"quantitative"},"y":{"datum":0,"type":"quantitative"}}},
{"mark":{"type":"text","text":"[m kg","align":"left","baseline":"alphabetic","dx":62,"dy":65,"fontSize":26},"encoding":{"x":{"datum":0,"type":"quantitative"},"y":{"datum":0,"type":"quantitative"}}},
{"mark":{"type":"text","text":"-1/3","align":"left","baseline":"alphabetic","dx":129,"dy":50,"fontSize":15},"encoding":{"x":{"datum":0,"type":"quantitative"},"y":{"datum":0,"type":"quantitative"}}},
{"mark":{"type":"text","text":"]","align":"left","baseline":"alphabetic","dx":158,"dy":65,"fontSize":26},"encoding":{"x":{"datum":0,"type":"quantitative"},"y":{"datum":0,"type":"quantitative"}}},
{"mark":{"type":"text","text":"(d)","align":"right","baseline":"alphabetic","dx":-36,"dy":105,"fontSize":21,"fill":"#333"},"encoding":{"x":{"datum":0,"type":"quantitative"},"y":{"datum":0,"type":"quantitative"}}},
{"mark":{"type":"text","text":"R","fontStyle":"italic","align":"center","baseline":"alphabetic","dx":-26,"dy":105,"fontSize":21,"fill":"#333"},"encoding":{"x":{"datum":0,"type":"quantitative"},"y":{"datum":0,"type":"quantitative"}}},
{"mark":{"type":"text","text":"= 16","align":"left","baseline":"alphabetic","dx":-16,"dy":105,"fontSize":21,"fill":"#333"},"encoding":{"x":{"datum":0,"type":"quantitative"},"y":{"datum":0,"type":"quantitative"}}}
]}
]
}
